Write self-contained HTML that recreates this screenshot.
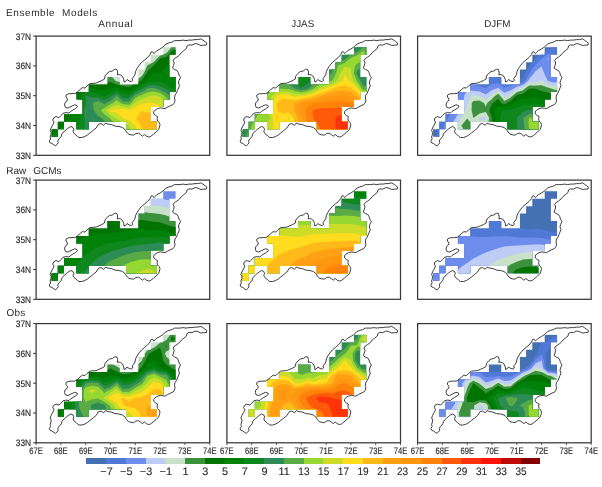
<!DOCTYPE html>
<html lang="en"><head><meta charset="utf-8"><title>Ensemble Models / Raw GCMs / Obs</title>
<style>html,body{margin:0;padding:0;background:#fff}svg{display:block}text{font-family:"Liberation Sans",sans-serif;fill:#2a2a2a;text-rendering:geometricPrecision}.t{font-size:10px}.a{font-size:9.4px;stroke:#2a2a2a;stroke-width:0.15px}.c{font-size:10.9px;stroke:#2a2a2a;stroke-width:0.12px}</style></head><body>
<svg width="602" height="487" viewBox="0 0 602 487">
<rect width="602" height="487" fill="#fff"/>
<defs>
<clipPath id="m0">
<rect x="127.10" y="11.18" width="12.40" height="7.51"/>
<rect x="114.70" y="18.62" width="18.60" height="7.51"/>
<rect x="108.50" y="26.08" width="24.80" height="7.51"/>
<rect x="102.30" y="33.52" width="31.00" height="7.51"/>
<rect x="71.30" y="40.98" width="12.40" height="7.51"/>
<rect x="102.30" y="40.98" width="37.20" height="7.51"/>
<rect x="52.70" y="48.43" width="86.80" height="7.51"/>
<rect x="40.30" y="55.88" width="93.00" height="7.51"/>
<rect x="46.50" y="63.33" width="80.60" height="7.51"/>
<rect x="46.50" y="70.77" width="68.20" height="7.51"/>
<rect x="27.90" y="78.22" width="86.80" height="7.51"/>
<rect x="21.70" y="85.67" width="6.20" height="7.51"/>
<rect x="40.30" y="85.67" width="12.40" height="7.51"/>
<rect x="89.90" y="85.67" width="31.00" height="7.51"/>
<rect x="15.50" y="93.12" width="6.20" height="7.51"/>
</clipPath>
<clipPath id="m1">
<rect x="127.10" y="11.18" width="12.40" height="7.51"/>
<rect x="114.70" y="18.62" width="18.60" height="7.51"/>
<rect x="108.50" y="26.08" width="24.80" height="7.51"/>
<rect x="102.30" y="33.52" width="31.00" height="7.51"/>
<rect x="71.30" y="40.98" width="12.40" height="7.51"/>
<rect x="102.30" y="40.98" width="37.20" height="7.51"/>
<rect x="52.70" y="48.43" width="86.80" height="7.51"/>
<rect x="40.30" y="55.88" width="93.00" height="7.51"/>
<rect x="46.50" y="63.33" width="80.60" height="7.51"/>
<rect x="46.50" y="70.77" width="68.20" height="7.51"/>
<rect x="27.90" y="78.22" width="86.80" height="7.51"/>
<rect x="21.70" y="85.67" width="6.20" height="7.51"/>
<rect x="40.30" y="85.67" width="12.40" height="7.51"/>
<rect x="89.90" y="85.67" width="31.00" height="7.51"/>
</clipPath>
</defs>
<g transform="translate(36.1 36.1)">
<g clip-path="url(#m0)">
<rect x="0" y="0" width="173.6" height="119.2" fill="#c8e1c8"/>
<path fill="#3c913c" fill-rule="evenodd" d="M142.6 6.1L148.8 2.5L153.5 0L155 0L161.2 0L167.4 0L173.6 0L179.8 0L179.8 7.5L179.8 14.9L179.8 22.4L179.8 29.8L179.8 37.2L179.8 44.7L179.8 52.1L179.8 59.6L179.8 67L179.8 74.5L179.8 82L179.8 89.4L179.8 96.9L179.8 104.3L179.8 111.8L179.8 119.2L179.8 126.7L173.6 126.7L167.4 126.7L161.2 126.7L155 126.7L148.8 126.7L142.6 126.7L136.4 126.7L130.2 126.7L124 126.7L117.8 126.7L111.6 126.7L105.4 126.7L99.2 126.7L93 126.7L86.8 126.7L80.6 126.7L74.4 126.7L68.2 126.7L62 126.7L55.8 126.7L49.6 126.7L43.4 126.7L37.2 126.7L31 126.7L24.8 126.7L18.6 126.7L12.4 126.7L6.2 126.7L0 126.7L0 119.2L0 111.8L0 104.3L0 96.9L0 89.4L0 82L0 74.5L0 67L0 59.6L0 57L6.2 54.2L10 52.1L12.4 51L18.6 47.6L23.3 44.7L24.8 44L31 40.8L37.2 38.3L41.6 37.2L43.4 36.9L49.6 36.5L55.8 37L57.2 37.2L62 37.9L68.2 38.5L74.4 38.9L79.3 44.7L80.6 45.4L86.8 46.2L93 46.1L97.2 44.7L99.2 44.1L105.4 40.5L107.7 37.2L111 29.8L111.6 29.2L117.8 25.8L120.8 22.4L124 19.6L130.2 17.1L132.2 14.9L136.4 9.7L141.1 7.5Z"/>
<path fill="#007300" fill-rule="evenodd" d="M167.4 7.4L173.6 5L179.8 2.4L179.8 7.5L179.8 14.9L179.8 22.4L179.8 29.8L179.8 37.2L179.8 44.7L179.8 52.1L179.8 59.6L179.8 67L179.8 74.5L179.8 82L179.8 89.4L179.8 96.9L179.8 104.3L179.8 111.8L179.8 119.2L179.8 126.7L173.6 126.7L167.4 126.7L161.2 126.7L155 126.7L148.8 126.7L142.6 126.7L136.4 126.7L130.2 126.7L124 126.7L117.8 126.7L111.6 126.7L105.4 126.7L99.2 126.7L93 126.7L86.8 126.7L80.6 126.7L74.4 126.7L68.2 126.7L62 126.7L55.8 126.7L49.6 126.7L43.4 126.7L37.2 126.7L31 126.7L24.8 126.7L18.6 126.7L12.4 126.7L6.2 126.7L0 126.7L0 119.2L0 111.8L0 104.3L0 96.9L0 89.4L0 84.1L3.9 82L6.2 80.7L12.4 76.9L15.8 74.5L18.6 72.5L24.2 67L24.8 66.5L30.9 59.6L31 59.5L36.2 52.1L37.2 51.3L43.4 46.3L49.6 44.9L55.8 45.6L62 46.8L68.2 46.9L74.4 45.8L80.6 48.5L86.8 50L93 50.9L99.2 47.7L104.8 44.7L105.4 44.4L110.4 37.2L111.6 34.8L116.9 29.8L117.8 29.3L123.8 22.4L124 22.2L130.2 20.8L135.7 14.9L136.4 14L142.6 13.6L148.8 12.7L155 11.4L161.2 9.6L167.3 7.5Z"/>
<path fill="#00820a" fill-rule="evenodd" d="M173.6 22L179.8 20.2L179.8 22.4L179.8 29.8L179.8 37.2L179.8 44.7L179.8 52.1L179.8 59.6L179.8 67L179.8 74.5L179.8 82L179.8 89.4L179.8 96.9L179.8 104.3L179.8 111.8L179.8 119.2L179.8 126.7L173.6 126.7L167.4 126.7L161.2 126.7L155 126.7L148.8 126.7L142.6 126.7L136.4 126.7L130.2 126.7L124 126.7L117.8 126.7L111.6 126.7L105.4 126.7L99.2 126.7L93 126.7L86.8 126.7L80.6 126.7L74.4 126.7L68.2 126.7L62 126.7L55.8 126.7L49.6 126.7L43.4 126.7L37.2 126.7L31 126.7L24.8 126.7L18.6 126.7L12.4 126.7L6.2 126.7L0 126.7L0 119.2L0 111.8L0 111L6.2 106.5L9 104.3L12.4 101.8L18.6 97L18.7 96.9L24.8 92.1L27.9 89.4L31 86.7L34.9 82L35.7 74.5L37.2 72L39.4 67L43.4 61.5L43.8 59.6L47 52.1L49.6 50.7L53.7 52.1L55.8 52.7L62 53.6L68.2 54.2L73 52.2L74.4 51.6L80.6 51.7L82.2 52.1L86.8 54L93 54.9L97.6 52.1L99.2 51.2L105.4 47.3L110.3 44.7L111.6 42.5L117.4 37.2L117.8 36.9L123.9 37.2L124 37.3L124.4 37.2L129.9 29.8L130.2 29.7L133.2 29.8L136.3 37.2L136.4 37.3L136.4 37.2L140.9 29.8L142.6 29.7L148.8 28.3L155 26.8L161.2 25.3L167.4 23.6L172.1 22.4Z"/>
<path fill="#0f871e" fill-rule="evenodd" d="M161.2 43L167.4 40.9L173.6 39.2L179.8 37.7L179.8 44.7L179.8 52.1L179.8 59.6L179.8 67L179.8 74.5L179.8 82L179.8 89.4L179.8 96.9L179.8 104.3L179.8 111.8L179.8 119.2L179.8 126.7L173.6 126.7L167.4 126.7L161.2 126.7L155 126.7L148.8 126.7L142.6 126.7L136.4 126.7L130.2 126.7L124 126.7L117.8 126.7L111.6 126.7L105.4 126.7L99.2 126.7L93 126.7L86.8 126.7L80.6 126.7L74.4 126.7L68.2 126.7L62 126.7L55.8 126.7L49.6 126.7L43.4 126.7L37.2 126.7L31 126.7L24.8 126.7L18.6 126.7L15.4 126.7L18.6 123.3L22.1 119.2L24.8 116.3L28.3 111.8L31 108.6L33.8 104.3L37.2 99.3L38.3 96.9L41.6 89.4L43.4 86.5L44.6 82L43.4 76.9L42.5 74.5L43.4 72.9L45.8 67L46.6 59.6L49.6 55.2L55.8 56.7L62 57.7L66.4 59.6L68.2 60.3L69.6 59.6L74.4 56.5L80.6 54.3L86.8 58.2L93 58.6L99.2 53.9L102.5 52.1L105.4 50.2L111.6 46.7L117.8 45.7L124 45.7L130.2 48L134.7 52.1L136.4 53.2L141.8 52.1L142.6 51.7L148.8 48.5L155 45.8L157.9 44.7Z"/>
<path fill="#2d8c55" fill-rule="evenodd" d="M111.6 49.4L117.8 48.7L124 50.1L128.1 52.1L130.2 53.1L136.4 57L142.6 57.5L148.8 57.2L155 56.4L161.2 55.6L167.4 54.8L173.6 54.1L179.8 53.6L179.8 59.6L179.8 67L179.8 74.5L179.8 82L179.8 89.4L179.8 96.9L179.8 104.3L179.8 111.8L179.8 119.2L179.8 126.7L173.6 126.7L167.4 126.7L161.2 126.7L155 126.7L148.8 126.7L142.6 126.7L136.4 126.7L130.2 126.7L124 126.7L117.8 126.7L111.6 126.7L105.4 126.7L99.2 126.7L93 126.7L86.8 126.7L80.6 126.7L74.4 126.7L68.2 126.7L62 126.7L55.8 126.7L49.6 126.7L43.4 126.7L40.5 126.7L43.4 121.4L44.5 119.2L47.8 111.8L49.6 105.8L50 104.3L50.4 96.9L49.6 95.5L48.4 89.4L48.5 82L47.7 74.5L49.6 68.9L50.4 67L49.6 62.6L49.4 59.6L49.6 59.2L51 59.6L55.8 61.4L62 61.5L68.2 64.2L74.4 61L76 59.6L80.6 56.9L84.4 59.6L86.8 61.8L93 62.2L95.1 59.6L99.2 56.2L105.4 53.1L107 52.1Z"/>
<path fill="#5aaa46" fill-rule="evenodd" d="M111.6 52.1L117.8 51.7L119.3 52.1L124 53.8L130.2 57.2L134.3 59.6L136.4 61.1L142.6 63.1L148.8 64.3L155 65.1L161.2 65.9L167.4 66.6L171.5 67L173.6 67.3L179.8 68.2L179.8 74.5L179.8 82L179.8 89.4L179.8 96.9L179.8 104.3L179.8 111.8L179.8 119.2L179.8 126.7L173.6 126.7L167.4 126.7L161.2 126.7L155 126.7L148.8 126.7L142.6 126.7L136.4 126.7L130.2 126.7L124 126.7L117.8 126.7L111.6 126.7L105.4 126.7L99.2 126.7L93 126.7L86.8 126.7L80.6 126.7L74.4 126.7L68.2 126.7L62 126.7L61.6 126.7L62 125.8L64.6 119.2L67.6 111.8L68.2 110.4L70.5 104.3L72.8 96.9L72.7 89.4L68.2 84.6L65.1 82L62 79.9L57.7 74.5L56.5 67L62 64.9L66.4 67L68.2 68.1L70.1 67L74.4 64.8L80.4 59.6L80.6 59.5L80.8 59.6L86.8 65.1L93 65.7L98 59.6L99.2 58.6L105.4 55.9L111.6 52.2Z"/>
<path fill="#96d732" fill-rule="evenodd" d="M105.4 58.8L111.6 56.2L117.8 55.3L124 57L128.2 59.6L130.2 61.8L136.4 66L139.1 67L142.6 69.2L148.8 71.8L155 74.1L156.2 74.5L161.2 76.6L167.4 79L173.6 81.4L175.1 82L179.8 84L179.8 89.4L179.8 96.9L179.8 104.3L179.8 111.8L179.8 119.2L179.8 126.7L173.6 126.7L167.4 126.7L161.2 126.7L155 126.7L148.8 126.7L142.6 126.7L136.4 126.7L130.2 126.7L124 126.7L117.8 126.7L111.6 126.7L105.4 126.7L99.2 126.7L93 126.7L86.8 126.7L80.6 126.7L80.2 126.7L80.6 124.9L81.8 119.2L83.6 111.8L85.5 104.3L86.5 96.9L82 89.4L80.6 88.6L74.4 83L73.5 82L68.2 77.8L64.6 74.5L68.2 72L74.4 68.2L76.8 67L80.6 64L84.4 67L86.8 68L93 68.7L95.1 67L99.2 62L103.3 59.6Z"/>
<path fill="#cddc28" fill-rule="evenodd" d="M117.8 59.1L120.6 59.6L124 61L130.1 67L130.2 67.2L136.4 72.6L139.6 74.5L142.6 77L148.8 81.3L150 81.9L155 86L159.8 89.4L161.2 90.7L167.4 95.8L168.8 96.8L173.6 101.4L177.2 104.3L179.8 107.1L179.8 111.8L179.8 119.2L179.8 126.7L173.6 126.7L167.4 126.7L161.2 126.7L155 126.7L148.8 126.7L142.6 126.7L136.4 126.7L130.2 126.7L124 126.7L117.8 126.7L111.6 126.7L105.4 126.7L99.2 126.7L96.3 126.7L95.8 119.2L95.6 111.8L95.7 104.3L95.8 96.9L93 90.8L92 89.4L86.8 86.8L80.6 83L79.5 82L74.4 78.8L69.7 74.5L74.4 71.1L80.6 68.6L86.8 70.4L93 71.3L98.5 67L99.2 66.2L105.4 62.8L111.6 60.6L114.9 59.6Z"/>
<path fill="#ffdc1e" fill-rule="evenodd" d="M111.6 66.9L117.8 67L117.8 67L124 70L128.8 74.5L130.2 75.8L136.4 81.9L136.5 82L142.6 89.4L142.6 89.5L147.4 96.9L148.8 100.3L151 104.3L153.5 111.8L154.9 119.2L155 121.9L155.1 126.7L155 126.7L148.8 126.7L142.6 126.7L136.4 126.7L130.2 126.7L124 126.7L117.8 126.7L115.8 126.7L111.6 121.1L110.7 119.2L107 111.8L105.4 108.6L104.1 104.3L102.1 96.9L99.2 89.6L99.1 89.4L93 84.4L86.9 82L86.8 81.9L80.6 76.6L74.4 75.1L73.7 74.5L74.4 74L80.6 73.1L86.8 72.7L93 73.9L99.2 70.8L105.4 67.6L110.2 67Z"/>
<path fill="#ffb919" fill-rule="evenodd" d="M105.4 75.1L111.6 76.3L117.8 77.8L124 81.3L124.7 82L129.7 89.4L130.2 93.3L130.8 96.9L130.2 99.1L126.3 104.3L124 105.5L117.8 104.8L117.2 104.3L111.6 100.9L109 96.8L105.4 90.8L104.8 89.4L100.1 81.9Z"/>
</g>
<path d="M19.4 109.7L17.9 108.9L15.9 107.4L14 106.7L13.2 104.9L14.5 102.9L14 100.9L14.8 98.4L15.1 96.4L14 94.4L15 91.9L15.9 90L17.1 88L17.9 86L16.7 84L17.4 81.8L19.9 80.5L22.9 81.5L24.9 79.5L26.9 77.2L29.9 76.5L32.9 76.9L34.4 75.4L36.9 73.9L39.4 72.4L41.4 70.7L40.9 69.4L38.4 68.7L34.9 70.4L31.9 71.9L29.4 71.4L28.4 68.9L28.9 66.4L30.9 64.9L31.4 62.9L29.9 60.9L29.9 59L31.9 57.8L35.9 57.5L38.4 57.5L39.9 57L43.9 53.5L46.3 51.5L48.8 52L50.8 50L53.8 47.5L60 47L62.9 45.7L65.9 44.4L68.4 42.9L68.9 39.9L70.9 37.4L73.4 35.4L76.3 34.9L78.8 33.1L80.8 33.4L81.6 35.9L81.3 38.9L82.5 38.4L84.5 38.9L86.4 40.4L87.7 43.4L87.9 45.9L89.4 45.4L90.9 43.4L93.1 44.9L95.4 45.4L96.7 44.4L96.1 42.4L97.4 40.9L98.9 38.4L99.4 35.4L100.9 32.4L102.9 29.4L105.4 26.4L108.4 23.9L111.4 21.4L113.9 18.5L114.9 16L116.3 15.5L117.8 17.5L118.8 16.5L120.8 14.5L123.8 13L126.8 11L130 8L132.9 6.8L135.9 6L138.4 4.5L140.9 4.5L143.9 4.5L146.9 4L149.9 4.5L152.9 4L155.9 4L158.9 3.5L161.8 3.5L164.8 2.8L166.8 4L168.8 5.5L170.8 7L170.3 9L167.8 9L164.8 9.4L161.8 8L158.9 7.5L155.9 9L152.9 8.8L150.9 9.9L150.4 12.4L147.9 14.4L145.4 16.4L143.4 18.9L140.9 20.9L138.4 22.4L137.1 24.4L138.1 26.9L137.4 29.4L136.4 31.9L138.4 33.4L140.9 34.4L142.1 36.4L142.9 39L144.4 41.4L142.9 44.4L142.4 46.9L143.4 49.4L142.4 51.9L141.4 54.4L140.4 56.9L138.9 58.9L138.4 61.9L138.9 64L138.4 66.5L136.9 68.5L134.4 69.5L131.4 71L128.9 72.5L126.9 72.2L124.4 71.8L121.5 72.5L119 74L117.5 75.9L117.8 77.9L119.5 79.4L121.5 80.4L121 82.4L121.5 84.9L123 86.4L123.9 88.4L123.4 90.9L122.5 93.4L120 95.9L117 98.4L114.5 100.4L112.5 100.9L110.3 100.1L108.3 98.4L106.3 100.1L104.3 98.4L102.3 97.1L99.8 97.4L97.4 99.1L94.9 98.7L92.4 98.1L90.4 95.9L88.9 93.4L86.4 91.4L82.9 90.4L78.9 90L75.4 88.5L71.9 88L69.4 87L67.5 89.2L65 87.5L62.5 88L60 91.9L57 94.4L53.8 96.9L51.3 98.9L48.8 100.4L45.8 101.4L42.9 101.4L41.4 100.4L39.9 98.9L37.9 97.4L36.9 95.4L37.7 93.4L36.9 91.4L34.9 90.4L32.9 91.4L30.9 92.9L28.9 94.7L26.9 96.4L25.7 98.1L25.4 99.9L24.4 101.4L22.7 102.9L21.7 104.9L22.1 106.7L20.9 108.4Z" fill="none" stroke="#1c1c1c" stroke-width="0.85" stroke-linejoin="round"/>
<rect x="0" y="0" width="173.6" height="119.2" fill="none" stroke="#383838" stroke-width="1.25"/>
<line x1="-3" y1="0" x2="0" y2="0" stroke="#383838" stroke-width="1"/>
<text class="a" x="-20.3" y="3.5" textLength="15.3" lengthAdjust="spacingAndGlyphs">37N</text>
<line x1="-3" y1="29.8" x2="0" y2="29.8" stroke="#383838" stroke-width="1"/>
<text class="a" x="-20.3" y="33.3" textLength="15.3" lengthAdjust="spacingAndGlyphs">36N</text>
<line x1="-3" y1="59.6" x2="0" y2="59.6" stroke="#383838" stroke-width="1"/>
<text class="a" x="-20.3" y="63.1" textLength="15.3" lengthAdjust="spacingAndGlyphs">35N</text>
<line x1="-3" y1="89.4" x2="0" y2="89.4" stroke="#383838" stroke-width="1"/>
<text class="a" x="-20.3" y="92.9" textLength="15.3" lengthAdjust="spacingAndGlyphs">34N</text>
<line x1="-3" y1="119.2" x2="0" y2="119.2" stroke="#383838" stroke-width="1"/>
<text class="a" x="-20.3" y="122.7" textLength="15.3" lengthAdjust="spacingAndGlyphs">33N</text>
</g>
<g transform="translate(226.9 36.1)">
<g clip-path="url(#m0)">
<rect x="0" y="0" width="173.6" height="119.2" fill="#0f871e"/>
<path fill="#2d8c55" fill-rule="evenodd" d="M136.4 3.8L142.6 0.1L142.9 0L148.8 0L155 0L161.2 0L167.4 0L173.6 0L179.8 0L179.8 7.5L179.8 14.9L179.8 22.4L179.8 29.8L179.8 37.2L179.8 44.7L179.8 52.1L179.8 59.6L179.8 67L179.8 74.5L179.8 82L179.8 89.4L179.8 96.9L179.8 104.3L179.8 111.8L179.8 119.2L179.8 126.7L173.6 126.7L167.4 126.7L161.2 126.7L155 126.7L148.8 126.7L142.6 126.7L136.4 126.7L130.2 126.7L124 126.7L117.8 126.7L111.6 126.7L105.4 126.7L99.2 126.7L93 126.7L86.8 126.7L80.6 126.7L74.4 126.7L68.2 126.7L62 126.7L55.8 126.7L49.6 126.7L43.4 126.7L37.2 126.7L31 126.7L24.8 126.7L18.6 126.7L12.4 126.7L6.2 126.7L0 126.7L0 119.2L0 111.8L0 110.4L6.2 106.2L8.2 104.3L12.4 101.8L17 96.9L17.7 89.4L16.2 82L16.3 74.5L18 67L18.6 65.5L21.1 59.6L24.8 54.1L26.3 52.1L31 47.9L36 44.7L37.2 44.1L43.4 41.9L49.6 41.2L55.8 42L62 43.9L63.3 44.7L68.2 46.8L74.4 51.9L80.6 47.5L84.1 44.7L86.8 42L93 37.7L93.8 37.2L99.2 31.7L100.2 29.8L105.4 24.2L108.6 22.4L111.6 21L117.8 19L124 15.3L125 14.9L130.2 10.9L133.8 7.4Z"/>
<path fill="#5aaa46" fill-rule="evenodd" d="M136.4 10.2L142.6 9.5L148.8 10.8L155 13.4L160 14.9L161.2 15.7L167.4 15.5L169.4 14.9L173.6 13.9L179.8 11.7L179.8 14.9L179.8 22.4L179.8 29.8L179.8 37.2L179.8 44.7L179.8 52.1L179.8 59.6L179.8 67L179.8 74.5L179.8 82L179.8 89.4L179.8 96.9L179.8 104.3L179.8 111.8L179.8 119.2L179.8 126.7L173.6 126.7L167.4 126.7L161.2 126.7L155 126.7L148.8 126.7L142.6 126.7L136.4 126.7L130.2 126.7L124 126.7L117.8 126.7L111.6 126.7L105.4 126.7L99.2 126.7L93 126.7L86.8 126.7L80.6 126.7L74.4 126.7L68.2 126.7L62 126.7L55.8 126.7L49.6 126.7L43.4 126.7L37.2 126.7L31 126.7L24.8 126.7L18.6 126.7L12.4 126.7L6.2 126.7L0 126.7L0 125.3L5.4 119.2L6.2 118.4L11.3 111.8L12.4 110.7L15.9 104.3L18.6 101.3L20.7 96.9L21.5 89.4L22.4 82L24.4 74.5L24.8 73.5L27.2 67L31 60.1L31.3 59.6L37.2 53.1L38.3 52.2L43.4 49L49.6 47.4L55.8 47.9L62 48.7L67.9 52.1L68.2 52.3L74.4 54.1L80.6 52.8L82.1 52.1L86.8 47.8L92.1 44.7L93 44L99.2 40.7L104.7 37.2L105.4 35.5L106.5 29.8L111.6 25.4L117.8 23.4L119.1 22.4L124 18.6L130.2 16L131.8 14.9ZM140.8 29.8L136.4 30.4L130.2 34.6L129.4 37.2L130.2 39.1L133.6 44.7L136.4 49.8L142.6 49.6L148.8 46.3L151.3 44.7L155 37.2L151.6 29.8L148.8 28.9L142.6 29.4Z"/>
<path fill="#96d732" fill-rule="evenodd" d="M136.4 14.7L137 14.9L139.6 22.4L136.4 24.3L130.2 27.4L128.2 29.8L126.9 37.2L130.1 44.7L130.2 44.8L134.9 52.1L136.4 53.8L142.6 54.4L148.8 53.7L154.4 52.1L155 51.8L161.2 48.6L167.4 45.4L168.9 44.7L173.6 41.5L179.8 38.2L179.8 44.7L179.8 52.1L179.8 59.6L179.8 67L179.8 74.5L179.8 82L179.8 89.4L179.8 96.9L179.8 104.3L179.8 111.8L179.8 119.2L179.8 126.7L173.6 126.7L167.4 126.7L161.2 126.7L155 126.7L148.8 126.7L142.6 126.7L136.4 126.7L130.2 126.7L124 126.7L117.8 126.7L111.6 126.7L105.4 126.7L99.2 126.7L93 126.7L86.8 126.7L80.6 126.7L74.4 126.7L68.2 126.7L62 126.7L55.8 126.7L49.6 126.7L43.4 126.7L37.2 126.7L31 126.7L24.8 126.7L18.6 126.7L12.8 126.7L16.5 119.2L18.6 114.5L19.5 111.8L21.4 104.3L23.6 96.9L24.8 89.5L24.8 89.4L29.3 82L31 78L32.6 74.5L35.2 67L37.2 63.6L39.4 59.6L43.4 55.7L49.6 52.4L55.8 52.6L62 52.9L68.2 55L74.4 56.1L80.6 54.9L86.8 52.3L87.2 52.1L93 48L99.2 45.8L105.2 44.7L105.4 44.6L109.2 37.2L111 29.8L111.6 29.3L117.8 26.8L123.4 22.4L124 21.9L130.2 19.2L136.2 14.9Z"/>
<path fill="#cddc28" fill-rule="evenodd" d="M117.8 30.6L124 31.9L124.4 37.2L126.8 44.7L130.2 48.3L132.7 52.1L136.4 56.4L142.6 58.1L148.8 58.7L155 58.5L161.2 57.7L167.4 56.6L173.6 55.3L179.8 54L179.8 59.6L179.8 67L179.8 74.5L179.8 82L179.8 89.4L179.8 96.9L179.8 104.3L179.8 111.8L179.8 119.2L179.8 126.7L173.6 126.7L167.4 126.7L161.2 126.7L155 126.7L148.8 126.7L142.6 126.7L136.4 126.7L130.2 126.7L124 126.7L117.8 126.7L111.6 126.7L105.4 126.7L99.2 126.7L93 126.7L86.8 126.7L80.6 126.7L74.4 126.7L68.2 126.7L62 126.7L55.8 126.7L49.6 126.7L43.4 126.7L37.2 126.7L31 126.7L24.8 126.7L24.4 126.7L24.8 125.3L26.5 119.2L28 111.8L28.7 104.3L30 96.9L31 94.2L37.2 89.7L37.5 89.4L43.4 82.6L43.5 82L43.4 81.5L39.8 74.5L41.1 67L43.4 63.3L45.2 59.6L49.6 56L55.8 55.4L62 55.9L68.2 57.8L74.4 58.1L80.6 57L86.8 54.8L92.3 52.1L93 51.6L99.2 49L105.4 47.3L110 44.7L111.6 41.5L113.6 37.2Z"/>
<path fill="#ffdc1e" fill-rule="evenodd" d="M117.8 38.7L121.5 44.7L124 45.6L130.2 51.8L130.4 52.1L136.4 58.9L138.3 59.6L142.6 61.9L148.8 63.5L155 64.5L161.2 65.2L167.4 65.6L173.6 65.8L179.8 66L179.8 67L179.8 74.5L179.8 82L179.8 89.4L179.8 96.9L179.8 104.3L179.8 111.8L179.8 119.2L179.8 126.7L173.6 126.7L167.4 126.7L161.2 126.7L155 126.7L148.8 126.7L142.6 126.7L136.4 126.7L130.2 126.7L124 126.7L117.8 126.7L111.6 126.7L105.4 126.7L99.2 126.7L93 126.7L86.8 126.7L80.6 126.7L74.4 126.7L68.2 126.7L62 126.7L55.8 126.7L49.6 126.7L43.4 126.7L37.2 126.7L36.3 126.7L37.2 122.4L37.9 119.2L39.5 111.8L41.6 104.3L43.4 100.4L44.9 96.8L46.6 89.4L46.3 82L45.1 74.5L45.7 67L49.5 59.6L49.6 59.5L55.8 58.1L62 58.9L64.5 59.6L68.2 60.6L74.4 60.1L77.8 59.6L80.6 59.2L86.8 57.2L93 54.5L99.2 52.2L99.2 52.1L105.4 50L111.6 47.1L116.2 44.7ZM60.6 82L62 84.3L62.7 82L62 81.2Z"/>
<path fill="#ffb919" fill-rule="evenodd" d="M111.6 50.6L117.8 49.1L124 51.4L124.8 52.1L130.2 56.1L133.4 59.6L136.4 62.4L142.6 65.9L145.9 67L148.8 68.6L155 70.8L161.2 72.6L167.4 74.3L168.3 74.5L173.6 76L179.8 77.5L179.8 82L179.8 89.4L179.8 96.9L179.8 104.3L179.8 111.8L179.8 119.2L179.8 126.7L173.6 126.7L167.4 126.7L161.2 126.7L155 126.7L148.8 126.7L142.6 126.7L136.4 126.7L130.2 126.7L124 126.7L117.8 126.7L111.6 126.7L105.4 126.7L99.2 126.7L93 126.7L86.8 126.7L80.6 126.7L74.4 126.7L68.2 126.7L62 126.7L55.8 126.7L49.6 126.7L49.3 126.7L49.6 125.5L51 119.2L53.3 111.8L55.8 106.1L56.6 104.3L62 97L62.1 96.9L67.4 89.4L67 82L62 76.2L55.8 77.6L50.4 74.5L49.8 67L55.8 62.6L62 63.5L68.2 63.8L74.4 62.4L80.6 61.4L86.8 59.7L87 59.6L93 57.3L99.2 55.1L105.4 52.8L107.2 52.1ZM49.6 76.3L51.1 82L49.6 83.7L49.2 82Z"/>
<path fill="#ffa014" fill-rule="evenodd" d="M99.2 58L105.4 56.2L111.6 54.6L117.8 54.3L124 56L129 59.6L130.2 60.5L136.4 66.2L138 67L142.6 70.8L148.8 74.3L149.4 74.5L155 77.9L161.2 81L163.4 82L167.4 84.2L173.6 87.3L178.1 89.4L179.8 90.4L179.8 96.9L179.8 104.3L179.8 111.8L179.8 119.2L179.8 126.7L173.6 126.7L167.4 126.7L161.2 126.7L155 126.7L148.8 126.7L142.6 126.7L136.4 126.7L130.2 126.7L124 126.7L117.8 126.7L111.6 126.7L105.4 126.7L99.2 126.7L93 126.7L86.8 126.7L80.6 126.7L74.4 126.7L68.2 126.7L62.6 126.7L63.9 119.2L65.7 111.7L68.2 104.6L68.3 104.3L70.7 96.9L72.2 89.4L71.1 82L68.2 75.7L67.1 74.5L67.9 67L68.2 67L74.4 64.6L80.6 63.6L86.8 62.1L93 60.2L94.5 59.6Z"/>
<path fill="#ff960f" fill-rule="evenodd" d="M111.6 58.9L117.8 58.9L120.8 59.6L124 60.5L130.2 65.1L132.5 67L136.4 71.4L140.4 74.5L142.6 76.7L148.8 81.6L149.4 82L155 86.8L158.6 89.4L161.2 91.9L167.3 96.9L167.4 97L173.6 102.6L175.8 104.3L179.8 108.2L179.8 111.8L179.8 119.2L179.8 126.7L173.6 126.7L167.4 126.7L161.2 126.7L155 126.7L148.8 126.7L142.6 126.7L136.4 126.7L130.2 126.7L124 126.7L117.8 126.7L111.6 126.7L105.4 126.7L99.2 126.7L93 126.7L86.8 126.7L80.6 126.7L75.6 126.7L75.7 119.2L76.2 111.8L76.9 104.3L77.3 96.9L77 89.4L75.2 82L74.4 79.6L72.5 74.5L73.7 67L74.4 66.8L80.6 65.9L86.8 64.6L93 63.3L99.2 61.5L105.4 59.8L106.5 59.6Z"/>
<path fill="#ff820a" fill-rule="evenodd" d="M86.8 67L93 66.5L99.2 65.7L105.4 65L111.6 64.6L117.8 64.8L124 65.9L125.8 67L130.2 71.3L133.2 74.5L136.4 78.2L140.2 82L142.6 85.2L146.5 89.4L148.8 92.8L152.2 96.9L155 101.5L157.2 104.3L161.2 111.3L161.5 111.7L165.5 119.2L167.4 123.8L168.9 126.7L167.4 126.7L161.2 126.7L155 126.7L148.8 126.7L142.6 126.7L136.4 126.7L130.2 126.7L124 126.7L117.8 126.7L111.6 126.7L105.4 126.7L99.2 126.7L93 126.7L89.3 126.7L87.7 119.2L86.8 113.6L86.6 111.7L85.6 104.3L84.4 96.9L82.5 89.4L80.6 84.7L79.9 81.9L77.9 74.5L80.6 70.8L86.6 67Z"/>
<path fill="#ff5a0a" fill-rule="evenodd" d="M86.8 73.6L93 72.4L99.2 72L105.4 71.8L111.6 71.4L117.8 71.9L124 73.7L124.9 74.5L130.2 79.7L132.1 82L136.4 88.6L137 89.4L140.4 96.9L142.6 104.3L142.6 104.3L143.7 111.8L143.5 119.2L142.6 123.4L141.5 126.7L136.4 126.7L130.2 126.7L124 126.7L117.8 126.7L111.6 126.7L108.3 126.6L105.4 123.4L103 119.2L99.3 111.8L99.2 111.6L97 104.3L95 96.9L93 92.5L91.8 89.4L86.8 83L86.4 82L85.5 74.5Z"/>
<path fill="#ff320a" fill-rule="evenodd" d="M111.6 79.5L117.8 79.2L123.1 82L124 82.8L128.2 89.4L129.2 96.9L126.3 104.3L124 106.8L117.8 107.7L112.7 104.3L111.6 103.4L108.6 96.9L108.4 89.4L108.8 81.9Z"/>
</g>
<path d="M19.4 109.7L17.9 108.9L15.9 107.4L14 106.7L13.2 104.9L14.5 102.9L14 100.9L14.8 98.4L15.1 96.4L14 94.4L15 91.9L15.9 90L17.1 88L17.9 86L16.7 84L17.4 81.8L19.9 80.5L22.9 81.5L24.9 79.5L26.9 77.2L29.9 76.5L32.9 76.9L34.4 75.4L36.9 73.9L39.4 72.4L41.4 70.7L40.9 69.4L38.4 68.7L34.9 70.4L31.9 71.9L29.4 71.4L28.4 68.9L28.9 66.4L30.9 64.9L31.4 62.9L29.9 60.9L29.9 59L31.9 57.8L35.9 57.5L38.4 57.5L39.9 57L43.9 53.5L46.3 51.5L48.8 52L50.8 50L53.8 47.5L60 47L62.9 45.7L65.9 44.4L68.4 42.9L68.9 39.9L70.9 37.4L73.4 35.4L76.3 34.9L78.8 33.1L80.8 33.4L81.6 35.9L81.3 38.9L82.5 38.4L84.5 38.9L86.4 40.4L87.7 43.4L87.9 45.9L89.4 45.4L90.9 43.4L93.1 44.9L95.4 45.4L96.7 44.4L96.1 42.4L97.4 40.9L98.9 38.4L99.4 35.4L100.9 32.4L102.9 29.4L105.4 26.4L108.4 23.9L111.4 21.4L113.9 18.5L114.9 16L116.3 15.5L117.8 17.5L118.8 16.5L120.8 14.5L123.8 13L126.8 11L130 8L132.9 6.8L135.9 6L138.4 4.5L140.9 4.5L143.9 4.5L146.9 4L149.9 4.5L152.9 4L155.9 4L158.9 3.5L161.8 3.5L164.8 2.8L166.8 4L168.8 5.5L170.8 7L170.3 9L167.8 9L164.8 9.4L161.8 8L158.9 7.5L155.9 9L152.9 8.8L150.9 9.9L150.4 12.4L147.9 14.4L145.4 16.4L143.4 18.9L140.9 20.9L138.4 22.4L137.1 24.4L138.1 26.9L137.4 29.4L136.4 31.9L138.4 33.4L140.9 34.4L142.1 36.4L142.9 39L144.4 41.4L142.9 44.4L142.4 46.9L143.4 49.4L142.4 51.9L141.4 54.4L140.4 56.9L138.9 58.9L138.4 61.9L138.9 64L138.4 66.5L136.9 68.5L134.4 69.5L131.4 71L128.9 72.5L126.9 72.2L124.4 71.8L121.5 72.5L119 74L117.5 75.9L117.8 77.9L119.5 79.4L121.5 80.4L121 82.4L121.5 84.9L123 86.4L123.9 88.4L123.4 90.9L122.5 93.4L120 95.9L117 98.4L114.5 100.4L112.5 100.9L110.3 100.1L108.3 98.4L106.3 100.1L104.3 98.4L102.3 97.1L99.8 97.4L97.4 99.1L94.9 98.7L92.4 98.1L90.4 95.9L88.9 93.4L86.4 91.4L82.9 90.4L78.9 90L75.4 88.5L71.9 88L69.4 87L67.5 89.2L65 87.5L62.5 88L60 91.9L57 94.4L53.8 96.9L51.3 98.9L48.8 100.4L45.8 101.4L42.9 101.4L41.4 100.4L39.9 98.9L37.9 97.4L36.9 95.4L37.7 93.4L36.9 91.4L34.9 90.4L32.9 91.4L30.9 92.9L28.9 94.7L26.9 96.4L25.7 98.1L25.4 99.9L24.4 101.4L22.7 102.9L21.7 104.9L22.1 106.7L20.9 108.4Z" fill="none" stroke="#1c1c1c" stroke-width="0.85" stroke-linejoin="round"/>
<rect x="0" y="0" width="173.6" height="119.2" fill="none" stroke="#383838" stroke-width="1.25"/>
</g>
<g transform="translate(417.6 36.1)">
<g clip-path="url(#m0)">
<rect x="0" y="0" width="173.6" height="119.2" fill="#4471b4"/>
<path fill="#5078d7" fill-rule="evenodd" d="M142.6 7.3L148.8 3.1L153.5 0L155 0L161.2 0L167.4 0L173.6 0L179.8 0L179.8 7.5L179.8 14.9L179.8 22.4L179.8 29.8L179.8 37.2L179.8 44.7L179.8 52.1L179.8 59.6L179.8 67L179.8 74.5L179.8 82L179.8 89.4L179.8 96.9L179.8 104.3L179.8 111.8L179.8 119.2L179.8 126.7L173.6 126.7L167.4 126.7L161.2 126.7L155 126.7L148.8 126.7L142.6 126.7L136.4 126.7L130.2 126.7L124 126.7L117.8 126.7L111.6 126.7L105.4 126.7L99.2 126.7L93 126.7L86.8 126.7L80.6 126.7L74.4 126.7L68.2 126.7L62 126.7L55.8 126.7L49.6 126.7L43.4 126.7L37.2 126.7L31 126.7L24.8 126.7L18.6 126.7L12.4 126.7L6.2 126.7L0 126.7L0 119.2L0 111.8L0 111.4L6.2 107.8L12 104.3L12.4 104L18.6 99.7L20.1 96.9L18.8 89.4L19.3 82L22.4 74.5L24.8 69.5L26.1 67L28.8 59.6L31 52.7L31.1 52.1L35.6 44.7L37.2 43.3L43.4 39.7L49.6 38.7L55.8 39L62 39.9L68.2 40.3L74.4 39.7L80.6 41.3L86.8 44.1L90.1 44.7L93 45L96.7 44.7L99.2 44.4L105.4 41.8L107.5 37.2L111.6 30.3L111.9 29.8L117.8 22.7L118.1 22.4L124 16.9L128.5 14.9L130.2 13.9L136.4 10.2L142.4 7.4Z"/>
<path fill="#6e8ceb" fill-rule="evenodd" d="M173.6 5.8L179.8 1.8L179.8 7.5L179.8 14.9L179.8 22.4L179.8 29.8L179.8 37.2L179.8 44.7L179.8 52.1L179.8 59.6L179.8 67L179.8 74.5L179.8 82L179.8 89.4L179.8 96.9L179.8 104.3L179.8 111.8L179.8 119.2L179.8 126.7L173.6 126.7L167.4 126.7L161.2 126.7L155 126.7L148.8 126.7L142.6 126.7L136.4 126.7L130.2 126.7L124 126.7L117.8 126.7L111.6 126.7L105.4 126.7L99.2 126.7L93 126.7L86.8 126.7L80.6 126.7L74.4 126.7L68.2 126.7L62 126.7L55.8 126.7L49.6 126.7L43.4 126.7L37.2 126.7L31 126.7L24.8 126.7L18.6 126.7L12.4 126.7L6.2 126.7L5.1 126.7L6.2 125.8L12.4 119.6L12.8 119.2L18.6 112.6L19.1 111.8L23.7 104.3L24.8 101.2L25.9 96.9L26.3 89.4L30.6 82L31 81.3L34.7 74.5L37.2 70.6L39.8 67L40.8 59.6L40.6 52.1L43.4 49L49.6 47.1L55.8 48.6L62 49.8L67.4 52.2L68.2 52.4L68.6 52.1L74.4 47.6L80.6 47.3L86.8 51.6L93 50.1L99.2 47.7L105.4 46.4L107.5 44.7L111.6 37.9L112.1 37.2L116.9 29.8L117.8 28.7L124 22.8L124.3 22.4L130.2 18.2L136.4 17.7L142.6 18.5L148.8 18.1L155 16L157.2 14.9L161.2 13L167.4 9.5L171 7.5Z"/>
<path fill="#becdf5" fill-rule="evenodd" d="M130.2 21.9L131.6 22.4L130.2 23.3L129.6 22.4ZM179.8 21L179.8 22.4L179.8 29.8L179.8 37.2L179.8 44.7L179.8 52.1L179.8 59.6L179.8 67L179.8 74.5L179.8 82L179.8 89.4L179.8 96.9L179.8 104.3L179.8 111.8L179.8 119.2L179.8 126.7L173.6 126.7L167.4 126.7L161.2 126.7L155 126.7L148.8 126.7L142.6 126.7L136.4 126.7L130.2 126.7L124 126.7L117.8 126.7L111.6 126.7L105.4 126.7L99.2 126.7L93 126.7L86.8 126.7L80.6 126.7L74.4 126.7L68.2 126.7L62 126.7L55.8 126.7L49.6 126.7L43.4 126.7L37.2 126.7L31 126.7L24.8 126.7L21.8 126.7L24.8 121.7L26 119.2L29.1 111.7L31 104.4L31 104.3L31.8 96.9L32.8 89.4L37.2 83.5L38.2 82L42.1 74.5L43.4 72.8L46.1 67L46.5 59.6L49.6 54.1L55.8 54.7L62 55.4L68.2 58.4L74.4 54L79.6 52.1L80.6 51.8L81.1 52.2L86.8 56.6L93 54.3L96.5 52.1L99.2 50.7L105.4 48.8L110.5 44.7L111.6 42.9L116.5 37.2L117.8 35.2L124 30.5L126.5 37.2L130.1 44.7L130.2 44.7L136.4 46.7L142.3 44.7L142.6 44.3L148.8 39.2L152 37.2L155 34.4L161.2 30.6L162.7 29.8L167.4 27.1L173.6 24L177.2 22.4Z"/>
<path fill="#c8e1c8" fill-rule="evenodd" d="M179.8 36.9L179.8 37.2L179.8 44.7L179.8 52.1L179.8 59.6L179.8 67L179.8 74.5L179.8 82L179.8 89.4L179.8 96.9L179.8 104.3L179.8 111.8L179.8 119.2L179.8 126.7L173.6 126.7L167.4 126.7L161.2 126.7L155 126.7L148.8 126.7L142.6 126.7L136.4 126.7L130.2 126.7L124 126.7L117.8 126.7L111.6 126.7L105.4 126.7L99.2 126.7L93 126.7L86.8 126.7L80.6 126.7L74.4 126.7L68.2 126.7L62 126.7L55.8 126.7L49.6 126.7L43.4 126.7L37.2 126.7L34.6 126.7L36.8 119.2L37.2 117.5L38.3 111.8L38.7 104.3L38.1 96.9L38.4 89.4L43.2 82L43.4 81.5L47.8 74.5L49.6 69L50.1 67L53.9 59.6L55.8 59.1L60 59.6L62 59.9L68.2 63.5L72.8 59.6L74.4 58.4L80.6 54.8L85.7 59.6L86.8 61.1L89.7 59.6L93 58L99.2 53.6L102.8 52.1L105.4 51.2L111.6 46.6L117.8 46.4L123.4 44.7L124 43.9L124.3 44.7L130.2 48.1L136.4 49.9L142.6 49.5L148.8 48L155 46L158.8 44.7L161.2 43.6L167.4 41.2L173.6 39L178.9 37.2ZM61.5 82L62 84.1L68.2 83.9L68.8 82L68.2 80.9L62 81.6Z"/>
<path fill="#3c913c" fill-rule="evenodd" d="M111.6 49.4L117.8 49.3L124 49.2L130.2 51.4L133 52.1L136.4 53.5L142.6 54.6L148.8 54.6L155 54L161.2 53.1L167.4 52.2L167.5 52.1L173.6 51.1L179.8 50.1L179.8 52.1L179.8 59.6L179.8 67L179.8 74.5L179.8 82L179.8 89.4L179.8 96.9L179.8 104.3L179.8 111.8L179.8 119.2L179.8 126.7L173.6 126.7L167.4 126.7L161.2 126.7L155 126.7L148.8 126.7L142.6 126.7L136.4 126.7L130.2 126.7L124 126.7L117.8 126.7L111.6 126.7L105.4 126.7L99.2 126.7L93 126.7L86.8 126.7L80.6 126.7L74.4 126.7L68.2 126.7L62 126.7L55.8 126.7L49.6 126.7L46.9 126.7L48.5 119.2L49.5 111.8L49.6 104.3L47.5 96.9L43.9 89.4L49.6 82.3L55.3 89.4L55.8 91.3L62 95.9L68.2 92.8L69.9 89.4L71.6 81.9L68.2 75.9L62 77.3L55.8 81.8L54 74.5L54.2 67L55.8 64.8L62 64.3L66.4 67L68.2 70.7L69.6 67L74.4 62.8L77.6 59.6L80.6 57.7L82.6 59.6L86.8 65L93 61.5L94.9 59.6L99.2 56.2L105.4 54.2L107.8 52.1Z"/>
<path fill="#007300" fill-rule="evenodd" d="M99.2 58.9L105.4 57.7L111.6 52.7L117.8 52.5L124 54.9L130.2 56.5L136.4 58.4L141.6 59.6L142.6 59.9L148.8 60.9L155 61.4L161.2 61.7L167.4 61.9L173.6 62.1L179.8 62.3L179.8 67L179.8 74.5L179.8 82L179.8 89.4L179.8 96.9L179.8 104.3L179.8 111.8L179.8 119.2L179.8 126.7L173.6 126.7L167.4 126.7L161.2 126.7L155 126.7L148.8 126.7L142.6 126.7L136.4 126.7L130.2 126.7L124 126.7L117.8 126.7L111.6 126.7L105.4 126.7L99.2 126.7L93 126.7L86.8 126.7L80.6 126.7L74.4 126.7L68.2 126.7L62 126.7L60.1 126.7L61.8 119.2L62 118.5L64.1 111.8L68 104.3L68.2 104.1L71.8 96.9L73.8 89.4L74.4 82.1L74.4 82L74.4 81.9L71.7 74.5L74.4 67.8L75.3 67L80.6 62.9L83.4 67L86.8 68.5L89.5 67L93 64.9L98.3 59.6Z"/>
<path fill="#00820a" fill-rule="evenodd" d="M99.2 64.6L105.4 62.7L111.6 61.8L117.8 61L124 62.4L130.2 63.5L136.4 64.7L142.6 66.2L146.3 67L148.8 67.7L155 69.2L161.2 70.6L167.4 72L173.6 73.4L178.8 74.5L179.8 74.8L179.8 82L179.8 89.4L179.8 96.9L179.8 104.3L179.8 111.8L179.8 119.2L179.8 126.7L173.6 126.7L167.4 126.7L161.2 126.7L155 126.7L148.8 126.7L142.6 126.7L136.4 126.7L130.2 126.7L124 126.7L117.8 126.7L111.6 126.7L105.4 126.7L99.2 126.7L93 126.7L86.8 126.7L80.6 126.7L74.4 126.7L73.4 126.7L74.4 120.8L74.7 119.2L76.3 111.8L78.1 104.3L79.1 96.9L78.4 89.4L77.8 81.9L76.6 74.5L80.6 70.3L86.8 71.3L93 68.9L96.1 67Z"/>
<path fill="#0f871e" fill-rule="evenodd" d="M86.8 74.2L93 73.7L99.2 71.5L105.4 69.4L111.6 68.8L117.8 68.3L124 69.1L130.2 70.1L136.4 71.2L142.6 73.2L146.6 74.5L148.8 75.5L155 78.1L161.2 80.7L164.3 81.9L167.4 83.6L173.6 86.6L179.6 89.4L179.8 89.5L179.8 96.9L179.8 104.3L179.8 111.8L179.8 119.2L179.8 126.7L173.6 126.7L167.4 126.7L161.2 126.7L155 126.7L148.8 126.7L142.6 126.7L136.4 126.7L130.2 126.7L124 126.7L117.8 126.7L111.6 126.7L105.4 126.7L99.2 126.7L93 126.7L86.8 126.7L86.4 126.7L86.6 119.2L86.8 117.3L87.2 111.8L88 104.3L88.8 96.9L87.3 89.4L86.8 88.9L82.4 82L84.7 74.5Z"/>
<path fill="#2d8c55" fill-rule="evenodd" d="M111.6 74L117.8 73.6L124 73.9L126.7 74.5L130.2 75.5L136.4 78L142.6 81.1L144.4 82L148.8 85.2L155 89.4L155 89.4L161.2 94.7L164 96.8L167.4 100.3L171.8 104.3L173.6 106.4L178.9 111.8L179.8 113L179.8 119.2L179.8 126.7L173.6 126.7L167.4 126.7L161.2 126.7L155 126.7L148.8 126.7L142.6 126.7L136.4 126.7L130.2 126.7L124 126.7L117.8 126.7L111.6 126.7L105.4 126.7L100.2 126.7L99.2 121.5L98.8 119.2L98.2 111.8L98.2 104.3L99.2 96.9L99.2 96.7L99.6 89.4L99.2 82.4L99.2 82L99.2 81.9L105.4 75.6L109.2 74.5Z"/>
<path fill="#5aaa46" fill-rule="evenodd" d="M111.6 78L117.8 77.3L124 78.6L130.2 81.4L131.3 82L136.4 86.6L139.8 89.4L142.6 93.5L145.4 96.9L148.8 103.7L149.2 104.3L151.7 111.8L152.7 119.2L151.9 126.6L148.8 126.7L142.6 126.7L136.4 126.7L130.2 126.7L124 126.7L119.5 126.7L117.8 125.2L113.7 119.2L111.6 116L109.9 111.8L107.7 104.3L107.1 96.8L106.7 89.4L105.7 82Z"/>
<path fill="#96d732" fill-rule="evenodd" d="M111.6 81.8L117.8 80.7L121.2 82L124 84.9L128.6 89.4L130.2 96.1L130.5 96.9L130.2 97.9L124.4 104.3L124 104.5L123.7 104.3L117.8 102.5L114 96.9L111.6 92.3L110.9 89.4L111.4 82Z"/>
</g>
<path d="M19.4 109.7L17.9 108.9L15.9 107.4L14 106.7L13.2 104.9L14.5 102.9L14 100.9L14.8 98.4L15.1 96.4L14 94.4L15 91.9L15.9 90L17.1 88L17.9 86L16.7 84L17.4 81.8L19.9 80.5L22.9 81.5L24.9 79.5L26.9 77.2L29.9 76.5L32.9 76.9L34.4 75.4L36.9 73.9L39.4 72.4L41.4 70.7L40.9 69.4L38.4 68.7L34.9 70.4L31.9 71.9L29.4 71.4L28.4 68.9L28.9 66.4L30.9 64.9L31.4 62.9L29.9 60.9L29.9 59L31.9 57.8L35.9 57.5L38.4 57.5L39.9 57L43.9 53.5L46.3 51.5L48.8 52L50.8 50L53.8 47.5L60 47L62.9 45.7L65.9 44.4L68.4 42.9L68.9 39.9L70.9 37.4L73.4 35.4L76.3 34.9L78.8 33.1L80.8 33.4L81.6 35.9L81.3 38.9L82.5 38.4L84.5 38.9L86.4 40.4L87.7 43.4L87.9 45.9L89.4 45.4L90.9 43.4L93.1 44.9L95.4 45.4L96.7 44.4L96.1 42.4L97.4 40.9L98.9 38.4L99.4 35.4L100.9 32.4L102.9 29.4L105.4 26.4L108.4 23.9L111.4 21.4L113.9 18.5L114.9 16L116.3 15.5L117.8 17.5L118.8 16.5L120.8 14.5L123.8 13L126.8 11L130 8L132.9 6.8L135.9 6L138.4 4.5L140.9 4.5L143.9 4.5L146.9 4L149.9 4.5L152.9 4L155.9 4L158.9 3.5L161.8 3.5L164.8 2.8L166.8 4L168.8 5.5L170.8 7L170.3 9L167.8 9L164.8 9.4L161.8 8L158.9 7.5L155.9 9L152.9 8.8L150.9 9.9L150.4 12.4L147.9 14.4L145.4 16.4L143.4 18.9L140.9 20.9L138.4 22.4L137.1 24.4L138.1 26.9L137.4 29.4L136.4 31.9L138.4 33.4L140.9 34.4L142.1 36.4L142.9 39L144.4 41.4L142.9 44.4L142.4 46.9L143.4 49.4L142.4 51.9L141.4 54.4L140.4 56.9L138.9 58.9L138.4 61.9L138.9 64L138.4 66.5L136.9 68.5L134.4 69.5L131.4 71L128.9 72.5L126.9 72.2L124.4 71.8L121.5 72.5L119 74L117.5 75.9L117.8 77.9L119.5 79.4L121.5 80.4L121 82.4L121.5 84.9L123 86.4L123.9 88.4L123.4 90.9L122.5 93.4L120 95.9L117 98.4L114.5 100.4L112.5 100.9L110.3 100.1L108.3 98.4L106.3 100.1L104.3 98.4L102.3 97.1L99.8 97.4L97.4 99.1L94.9 98.7L92.4 98.1L90.4 95.9L88.9 93.4L86.4 91.4L82.9 90.4L78.9 90L75.4 88.5L71.9 88L69.4 87L67.5 89.2L65 87.5L62.5 88L60 91.9L57 94.4L53.8 96.9L51.3 98.9L48.8 100.4L45.8 101.4L42.9 101.4L41.4 100.4L39.9 98.9L37.9 97.4L36.9 95.4L37.7 93.4L36.9 91.4L34.9 90.4L32.9 91.4L30.9 92.9L28.9 94.7L26.9 96.4L25.7 98.1L25.4 99.9L24.4 101.4L22.7 102.9L21.7 104.9L22.1 106.7L20.9 108.4Z" fill="none" stroke="#1c1c1c" stroke-width="0.85" stroke-linejoin="round"/>
<rect x="0" y="0" width="173.6" height="119.2" fill="none" stroke="#383838" stroke-width="1.25"/>
</g>
<g transform="translate(36.1 180.1)">
<g clip-path="url(#m0)">
<rect x="0" y="0" width="173.6" height="119.2" fill="#6e8ceb"/>
<path fill="#becdf5" fill-rule="evenodd" d="M6.2 0L12.4 0L18.6 0L24.8 0L31 0L37.2 0L43.4 0L49.6 0L55.8 0L62 0L68.2 0L74.4 0L80.6 0L86.8 0L93 0L96 0L99.2 2.3L105.2 7.5L105.4 7.6L111.6 12.3L114.8 14.9L117.8 16.2L124 17.7L130.2 19.8L136.4 19.3L142.6 17.1L147.2 14.9L148.8 13.7L155 9.3L157.7 7.5L161.2 4.4L166.8 0L167.4 0L173.6 0L179.8 0L179.8 7.5L179.8 14.9L179.8 22.4L179.8 29.8L179.8 37.2L179.8 44.7L179.8 52.1L179.8 59.6L179.8 67L179.8 74.5L179.8 82L179.8 89.4L179.8 96.9L179.8 104.3L179.8 111.8L179.8 119.2L179.8 126.7L173.6 126.7L167.4 126.7L161.2 126.7L155 126.7L148.8 126.7L142.6 126.7L136.4 126.7L130.2 126.7L124 126.7L117.8 126.7L111.6 126.7L105.4 126.7L99.2 126.7L93 126.7L86.8 126.7L80.6 126.7L74.4 126.7L68.2 126.7L62 126.7L55.8 126.7L49.6 126.7L43.4 126.7L37.2 126.7L31 126.7L24.8 126.7L18.6 126.7L12.4 126.7L6.2 126.7L0 126.7L0 119.2L0 111.8L0 104.3L0 96.9L0 89.4L0 82L0 74.5L0 67L0 59.6L0 52.1L0 44.7L0 37.2L0 29.8L0 22.4L0 14.9L0 7.5L0 0Z"/>
<path fill="#c8e1c8" fill-rule="evenodd" d="M6.2 0L12.4 0L18.6 0L24.8 0L31 0L37.2 0L43.4 0L49.6 0L49.8 0L55.8 1.9L62 4.1L68.2 6.5L70.3 7.4L74.4 8.9L80.6 11.4L86.8 14.2L88.3 14.9L93 16.8L99.2 19.4L105.4 22.3L105.6 22.4L111.6 24.4L117.8 25.5L124 25.9L130.2 27.1L136.4 28.3L142.6 28.3L148.8 27.1L155 25.2L161.2 23L163 22.4L167.4 20.3L173.6 17.5L179.3 14.9L179.8 14.6L179.8 14.9L179.8 22.4L179.8 29.8L179.8 37.2L179.8 44.7L179.8 52.1L179.8 59.6L179.8 67L179.8 74.5L179.8 82L179.8 89.4L179.8 96.9L179.8 104.3L179.8 111.8L179.8 119.2L179.8 126.7L173.6 126.7L167.4 126.7L161.2 126.7L155 126.7L148.8 126.7L142.6 126.7L136.4 126.7L130.2 126.7L124 126.7L117.8 126.7L111.6 126.7L105.4 126.7L99.2 126.7L93 126.7L86.8 126.7L80.6 126.7L74.4 126.7L68.2 126.7L62 126.7L55.8 126.7L49.6 126.7L43.4 126.7L37.2 126.7L31 126.7L24.8 126.7L18.6 126.7L12.4 126.7L6.2 126.7L0 126.7L0 119.2L0 111.8L0 104.3L0 96.9L0 89.4L0 82L0 74.5L0 67L0 59.6L0 52.1L0 44.7L0 37.2L0 29.8L0 22.4L0 14.9L0 7.5L0 0Z"/>
<path fill="#3c913c" fill-rule="evenodd" d="M6.2 21.6L12.4 21.5L18.6 21.3L24.8 21.2L31 21.2L37.2 21.3L43.4 21.6L49.6 22.1L51.6 22.4L55.8 22.8L62 23.6L68.2 24.7L74.4 25.8L80.6 27L86.8 28.2L93 29.4L95.1 29.8L99.2 30.5L105.4 31.6L111.6 32.7L117.8 33.1L124 33.9L130.2 35.4L135.5 37.2L136.4 37.6L142.6 38.2L148.8 37.8L152.6 37.2L155 36.9L161.2 35.7L167.4 34.4L173.6 33L179.8 31.5L179.8 37.2L179.8 44.7L179.8 52.1L179.8 59.6L179.8 67L179.8 74.5L179.8 82L179.8 89.4L179.8 96.9L179.8 104.3L179.8 111.8L179.8 119.2L179.8 126.7L173.6 126.7L167.4 126.7L161.2 126.7L155 126.7L148.8 126.7L142.6 126.7L136.4 126.7L130.2 126.7L124 126.7L117.8 126.7L111.6 126.7L105.4 126.7L99.2 126.7L93 126.7L86.8 126.7L80.6 126.7L74.4 126.7L68.2 126.7L62 126.7L55.8 126.7L49.6 126.7L43.4 126.7L37.2 126.7L31 126.7L24.8 126.7L18.6 126.7L12.4 126.7L6.2 126.7L0 126.7L0 119.2L0 111.8L0 104.3L0 96.9L0 89.4L0 82L0 74.5L0 67L0 59.6L0 52.1L0 44.7L0 37.2L0 29.8L0 22.4L0 21.7Z"/>
<path fill="#007300" fill-rule="evenodd" d="M31 44.2L37.2 42.4L43.4 40.9L49.6 40L55.8 39.5L62 39.5L68.2 39.7L74.4 39.9L80.6 40L86.8 40.2L93 40L99.2 39.8L105.4 39.8L111.6 40.7L117.8 41.6L124 42.5L130.2 44.5L130.7 44.7L136.4 46.6L142.6 47.1L148.8 46.9L155 46.8L161.2 46.5L167.4 46.3L173.6 46L179.8 45.6L179.8 52.1L179.8 59.6L179.8 67L179.8 74.5L179.8 82L179.8 89.4L179.8 96.9L179.8 104.3L179.8 111.8L179.8 119.2L179.8 126.7L173.6 126.7L167.4 126.7L161.2 126.7L155 126.7L148.8 126.7L142.6 126.7L136.4 126.7L130.2 126.7L124 126.7L117.8 126.7L111.6 126.7L105.4 126.7L99.2 126.7L93 126.7L86.8 126.7L80.6 126.7L74.4 126.7L68.2 126.7L62 126.7L55.8 126.7L49.6 126.7L43.4 126.7L37.2 126.7L31 126.7L24.8 126.7L18.6 126.7L12.4 126.7L6.2 126.7L0 126.7L0 119.2L0 111.8L0 104.3L0 96.9L0 89.4L0 82L0 74.5L0 67L0 59.6L0 54.9L6.2 53L8.8 52.1L12.4 51L18.6 48.7L24.8 46.4L29.5 44.7Z"/>
<path fill="#00820a" fill-rule="evenodd" d="M86.8 52L93 50.6L99.2 49.4L105.4 48.7L111.6 49.6L117.8 50.2L124 50.2L130.2 51.3L132.7 52.1L136.4 53.2L142.6 54.3L148.8 55.1L155 55.8L161.2 56.6L167.4 57.3L173.6 58.1L179.8 58.8L179.8 59.6L179.8 67L179.8 74.5L179.8 82L179.8 89.4L179.8 96.9L179.8 104.3L179.8 111.8L179.8 119.2L179.8 126.7L173.6 126.7L167.4 126.7L161.2 126.7L155 126.7L148.8 126.7L142.6 126.7L136.4 126.7L130.2 126.7L124 126.7L117.8 126.7L111.6 126.7L105.4 126.7L99.2 126.7L93 126.7L86.8 126.7L80.6 126.7L74.4 126.7L68.2 126.7L62 126.7L55.8 126.7L49.6 126.7L43.4 126.7L37.2 126.7L31 126.7L24.8 126.7L18.6 126.7L12.4 126.7L6.2 126.7L0 126.7L0 119.2L0 111.8L0 104.3L0 96.9L0 89.4L0 89.1L6.2 87L12.4 84.4L16.4 82L18.6 80.6L24.8 76L26.6 74.5L31 70.6L34.5 67L37.2 64.8L43 59.6L43.4 59.3L49.6 56.8L55.8 54.4L62 53.4L68.2 53.3L74.4 53L80.6 52.5L85.1 52.1Z"/>
<path fill="#0f871e" fill-rule="evenodd" d="M99.2 58.4L105.4 57.5L111.6 57.4L117.8 57.1L124 56.4L130.2 57.1L136.4 59L138.3 59.6L142.6 61.2L148.8 63.2L155 65L161.2 66.8L162.1 67L167.4 68.7L173.6 70.6L179.8 72.5L179.8 74.5L179.8 82L179.8 89.4L179.8 96.9L179.8 104.3L179.8 111.8L179.8 119.2L179.8 126.7L173.6 126.7L167.4 126.7L161.2 126.7L155 126.7L148.8 126.7L142.6 126.7L136.4 126.7L130.2 126.7L124 126.7L117.8 126.7L111.6 126.7L105.4 126.7L99.2 126.7L93 126.7L86.8 126.7L80.6 126.7L74.4 126.7L68.2 126.7L62 126.7L55.8 126.7L49.6 126.7L43.4 126.7L37.2 126.7L31 126.7L24.8 126.7L18.6 126.7L12.4 126.7L6.2 126.7L0 126.7L0 119.2L0 116.6L6.2 113.3L8.9 111.8L12.4 110L18.6 106.3L21.1 104.3L24.8 101.3L29.2 96.9L31 95.1L36.4 89.4L37.2 88.6L42.9 82L43.4 81.4L49.6 75.1L50.3 74.5L55.8 70.2L61.2 67L62 66.6L68.2 64.2L74.4 62.8L80.6 61.9L86.8 61.3L93 59.7L93.6 59.6Z"/>
<path fill="#2d8c55" fill-rule="evenodd" d="M93 66.6L99.2 65.2L105.4 64.4L111.6 64L117.8 63.4L124 62.5L130.2 63.4L136.4 66.1L138.6 67.1L142.6 69.3L148.8 72.4L153.3 74.5L155 75.5L161.2 78.7L167.4 81.7L167.9 82L173.6 85.1L179.8 88.3L179.8 89.4L179.8 96.9L179.8 104.3L179.8 111.8L179.8 119.2L179.8 126.7L173.6 126.7L167.4 126.7L161.2 126.7L155 126.7L148.8 126.7L142.6 126.7L136.4 126.7L130.2 126.7L124 126.7L117.8 126.7L111.6 126.7L105.4 126.7L99.2 126.7L93 126.7L86.8 126.7L80.6 126.7L74.4 126.7L68.2 126.7L62 126.7L55.8 126.7L49.6 126.7L43.4 126.7L37.2 126.7L31 126.7L24.8 126.7L21.8 126.7L24.8 123.7L28.6 119.2L31 116.6L34.7 111.8L37.2 108.7L40.1 104.3L43.4 99.8L45.2 96.8L49.6 90.3L50.1 89.4L55.8 83L57.1 82L62 78L67.8 74.5L68.2 74.3L74.4 71.7L80.6 69.8L86.8 68.2L91.4 67Z"/>
<path fill="#5aaa46" fill-rule="evenodd" d="M93 73.7L99.2 72.1L105.4 71.3L111.6 70.9L117.8 70.4L124 69.9L130.2 71.9L134.7 74.5L136.4 75.7L142.6 80.1L145.5 81.9L148.8 84.6L155 89.2L155.3 89.4L161.2 94.3L164.6 96.9L167.4 99.3L173.5 104.3L173.6 104.4L179.8 109.9L179.8 111.8L179.8 119.2L179.8 126.7L173.6 126.7L167.4 126.7L161.2 126.7L155 126.7L148.8 126.7L142.6 126.7L136.4 126.7L130.2 126.7L124 126.7L117.8 126.7L111.6 126.7L105.4 126.7L99.2 126.7L93 126.7L86.8 126.7L80.6 126.7L74.4 126.7L68.2 126.7L62 126.7L55.8 126.7L49.6 126.7L44.5 126.7L48.2 119.2L49.6 116.3L51.6 111.8L55 104.3L55.8 102.5L58.5 96.9L62 91.6L63.6 89.4L68.2 85.4L72.2 82L74.4 80.7L80.6 78.1L86.8 75.7L90.2 74.5Z"/>
<path fill="#96d732" fill-rule="evenodd" d="M99.2 80.6L105.4 79.4L111.6 79.2L117.8 79.6L124 80.9L126.2 82L130.2 84.6L135.9 89.4L136.4 89.9L142.6 96.7L142.8 96.9L148.8 104.3L148.8 104.4L154.2 111.8L155 113L159.3 119.2L161.2 122.3L164.2 126.7L161.2 126.7L155 126.7L148.8 126.7L142.6 126.7L136.4 126.7L130.2 126.7L124 126.7L117.8 126.7L111.6 126.7L105.4 126.7L99.2 126.7L93 126.7L86.8 126.7L80.6 126.7L74.4 126.7L68.2 126.7L64.9 126.7L66.6 119.2L68.2 112.8L68.5 111.8L71 104.3L74.4 97L74.5 96.9L80.6 89.5L80.7 89.4L86.8 85.7L93 82.7L94.8 82Z"/>
<path fill="#cddc28" fill-rule="evenodd" d="M111.6 89.1L114 89.4L117.8 91.1L122.1 96.9L124 100.8L125.6 104.3L127.9 111.8L129.5 119.2L130.2 126.5L130.2 126.7L130.2 126.7L124 126.7L117.8 126.7L111.6 126.7L105.4 126.7L99.2 126.7L93 126.7L91.6 126.7L90.4 119.2L90.1 111.8L91.1 104.3L93 98.7L93.8 96.9L99.2 93.3L105.4 90.9L109.7 89.4Z"/>
</g>
<path d="M19.4 109.7L17.9 108.9L15.9 107.4L14 106.7L13.2 104.9L14.5 102.9L14 100.9L14.8 98.4L15.1 96.4L14 94.4L15 91.9L15.9 90L17.1 88L17.9 86L16.7 84L17.4 81.8L19.9 80.5L22.9 81.5L24.9 79.5L26.9 77.2L29.9 76.5L32.9 76.9L34.4 75.4L36.9 73.9L39.4 72.4L41.4 70.7L40.9 69.4L38.4 68.7L34.9 70.4L31.9 71.9L29.4 71.4L28.4 68.9L28.9 66.4L30.9 64.9L31.4 62.9L29.9 60.9L29.9 59L31.9 57.8L35.9 57.5L38.4 57.5L39.9 57L43.9 53.5L46.3 51.5L48.8 52L50.8 50L53.8 47.5L60 47L62.9 45.7L65.9 44.4L68.4 42.9L68.9 39.9L70.9 37.4L73.4 35.4L76.3 34.9L78.8 33.1L80.8 33.4L81.6 35.9L81.3 38.9L82.5 38.4L84.5 38.9L86.4 40.4L87.7 43.4L87.9 45.9L89.4 45.4L90.9 43.4L93.1 44.9L95.4 45.4L96.7 44.4L96.1 42.4L97.4 40.9L98.9 38.4L99.4 35.4L100.9 32.4L102.9 29.4L105.4 26.4L108.4 23.9L111.4 21.4L113.9 18.5L114.9 16L116.3 15.5L117.8 17.5L118.8 16.5L120.8 14.5L123.8 13L126.8 11L130 8L132.9 6.8L135.9 6L138.4 4.5L140.9 4.5L143.9 4.5L146.9 4L149.9 4.5L152.9 4L155.9 4L158.9 3.5L161.8 3.5L164.8 2.8L166.8 4L168.8 5.5L170.8 7L170.3 9L167.8 9L164.8 9.4L161.8 8L158.9 7.5L155.9 9L152.9 8.8L150.9 9.9L150.4 12.4L147.9 14.4L145.4 16.4L143.4 18.9L140.9 20.9L138.4 22.4L137.1 24.4L138.1 26.9L137.4 29.4L136.4 31.9L138.4 33.4L140.9 34.4L142.1 36.4L142.9 39L144.4 41.4L142.9 44.4L142.4 46.9L143.4 49.4L142.4 51.9L141.4 54.4L140.4 56.9L138.9 58.9L138.4 61.9L138.9 64L138.4 66.5L136.9 68.5L134.4 69.5L131.4 71L128.9 72.5L126.9 72.2L124.4 71.8L121.5 72.5L119 74L117.5 75.9L117.8 77.9L119.5 79.4L121.5 80.4L121 82.4L121.5 84.9L123 86.4L123.9 88.4L123.4 90.9L122.5 93.4L120 95.9L117 98.4L114.5 100.4L112.5 100.9L110.3 100.1L108.3 98.4L106.3 100.1L104.3 98.4L102.3 97.1L99.8 97.4L97.4 99.1L94.9 98.7L92.4 98.1L90.4 95.9L88.9 93.4L86.4 91.4L82.9 90.4L78.9 90L75.4 88.5L71.9 88L69.4 87L67.5 89.2L65 87.5L62.5 88L60 91.9L57 94.4L53.8 96.9L51.3 98.9L48.8 100.4L45.8 101.4L42.9 101.4L41.4 100.4L39.9 98.9L37.9 97.4L36.9 95.4L37.7 93.4L36.9 91.4L34.9 90.4L32.9 91.4L30.9 92.9L28.9 94.7L26.9 96.4L25.7 98.1L25.4 99.9L24.4 101.4L22.7 102.9L21.7 104.9L22.1 106.7L20.9 108.4Z" fill="none" stroke="#1c1c1c" stroke-width="0.85" stroke-linejoin="round"/>
<rect x="0" y="0" width="173.6" height="119.2" fill="none" stroke="#383838" stroke-width="1.25"/>
<line x1="-3" y1="0" x2="0" y2="0" stroke="#383838" stroke-width="1"/>
<text class="a" x="-20.3" y="3.5" textLength="15.3" lengthAdjust="spacingAndGlyphs">37N</text>
<line x1="-3" y1="29.8" x2="0" y2="29.8" stroke="#383838" stroke-width="1"/>
<text class="a" x="-20.3" y="33.3" textLength="15.3" lengthAdjust="spacingAndGlyphs">36N</text>
<line x1="-3" y1="59.6" x2="0" y2="59.6" stroke="#383838" stroke-width="1"/>
<text class="a" x="-20.3" y="63.1" textLength="15.3" lengthAdjust="spacingAndGlyphs">35N</text>
<line x1="-3" y1="89.4" x2="0" y2="89.4" stroke="#383838" stroke-width="1"/>
<text class="a" x="-20.3" y="92.9" textLength="15.3" lengthAdjust="spacingAndGlyphs">34N</text>
<line x1="-3" y1="119.2" x2="0" y2="119.2" stroke="#383838" stroke-width="1"/>
<text class="a" x="-20.3" y="122.7" textLength="15.3" lengthAdjust="spacingAndGlyphs">33N</text>
</g>
<g transform="translate(226.9 180.1)">
<g clip-path="url(#m0)">
<rect x="0" y="0" width="173.6" height="119.2" fill="#00820a"/>
<path fill="#0f871e" fill-rule="evenodd" d="M6.2 0L12.4 0L18.6 0L24.8 0L31 0L37.2 0L43.4 0L49.6 0L55.8 0L62 0L68.2 0L74.4 0L80.6 0L86.8 0L93 0L99.2 0L105.4 0L108.6 0L111.6 3L115.5 7.5L117.8 9.4L124 14.3L124.7 14.9L130.2 16.8L136.4 17.5L142.6 15.2L143.2 14.9L148.8 10.2L152.6 7.5L155 4.8L160.3 0L161.2 0L167.4 0L173.6 0L179.8 0L179.8 7.5L179.8 14.9L179.8 22.4L179.8 29.8L179.8 37.2L179.8 44.7L179.8 52.1L179.8 59.6L179.8 67L179.8 74.5L179.8 82L179.8 89.4L179.8 96.9L179.8 104.3L179.8 111.8L179.8 119.2L179.8 126.7L173.6 126.7L167.4 126.7L161.2 126.7L155 126.7L148.8 126.7L142.6 126.7L136.4 126.7L130.2 126.7L124 126.7L117.8 126.7L111.6 126.7L105.4 126.7L99.2 126.7L93 126.7L86.8 126.7L80.6 126.7L74.4 126.7L68.2 126.7L62 126.7L55.8 126.7L49.6 126.7L43.4 126.7L37.2 126.7L31 126.7L24.8 126.7L18.6 126.7L12.4 126.7L6.2 126.7L0 126.7L0 119.2L0 111.8L0 104.3L0 96.9L0 89.4L0 82L0 74.5L0 67L0 59.6L0 52.1L0 44.7L0 37.2L0 29.8L0 22.4L0 14.9L0 7.5L0 0Z"/>
<path fill="#2d8c55" fill-rule="evenodd" d="M6.2 0L12.4 0L18.6 0L24.8 0L31 0L37.2 0L43.4 0L49.6 0L55.8 0L62 0L68.2 0L74.4 0L80.6 0L81.2 0L86.8 3.8L91.8 7.5L93 8.2L99.2 12.1L103.3 14.9L105.4 15.9L111.6 19.1L117.8 22L118.6 22.4L124 23.7L130.2 24.3L136.4 24.5L142.6 23.8L148.8 22.4L148.9 22.4L155 20L161.2 17.4L166.7 14.9L167.4 14.5L173.6 11.1L179.8 7.8L179.8 14.9L179.8 22.4L179.8 29.8L179.8 37.2L179.8 44.7L179.8 52.1L179.8 59.6L179.8 67L179.8 74.5L179.8 82L179.8 89.4L179.8 96.9L179.8 104.3L179.8 111.8L179.8 119.2L179.8 126.7L173.6 126.7L167.4 126.7L161.2 126.7L155 126.7L148.8 126.7L142.6 126.7L136.4 126.7L130.2 126.7L124 126.7L117.8 126.7L111.6 126.7L105.4 126.7L99.2 126.7L93 126.7L86.8 126.7L80.6 126.7L74.4 126.7L68.2 126.7L62 126.7L55.8 126.7L49.6 126.7L43.4 126.7L37.2 126.7L31 126.7L24.8 126.7L18.6 126.7L12.4 126.7L6.2 126.7L0 126.7L0 119.2L0 111.8L0 104.3L0 96.9L0 89.4L0 82L0 74.5L0 67L0 59.6L0 52.1L0 44.7L0 37.2L0 29.8L0 22.4L0 14.9L0 7.5L0 0Z"/>
<path fill="#5aaa46" fill-rule="evenodd" d="M6.2 0L12.4 0L18.6 0L24.8 0L31 0L37.2 0L40.2 0L43.4 1.3L49.6 4L55.8 6.9L56.8 7.5L62 9.8L68.2 12.6L72.9 14.9L74.4 15.5L80.6 18.1L86.8 20.7L90.9 22.4L93 23L99.2 25.1L105.4 27L111.6 28.5L117.8 28.8L124 29.5L126.5 29.8L130.2 30.3L136.4 31L142.6 31.3L148.8 31L155 30.3L157.9 29.8L161.2 29.2L167.4 27.7L173.6 26.1L179.8 24.4L179.8 29.8L179.8 37.2L179.8 44.7L179.8 52.1L179.8 59.6L179.8 67L179.8 74.5L179.8 82L179.8 89.4L179.8 96.9L179.8 104.3L179.8 111.8L179.8 119.2L179.8 126.7L173.6 126.7L167.4 126.7L161.2 126.7L155 126.7L148.8 126.7L142.6 126.7L136.4 126.7L130.2 126.7L124 126.7L117.8 126.7L111.6 126.7L105.4 126.7L99.2 126.7L93 126.7L86.8 126.7L80.6 126.7L74.4 126.7L68.2 126.7L62 126.7L55.8 126.7L49.6 126.7L43.4 126.7L37.2 126.7L31 126.7L24.8 126.7L18.6 126.7L12.4 126.7L6.2 126.7L0 126.7L0 119.2L0 111.8L0 104.3L0 96.9L0 89.4L0 82L0 74.5L0 67L0 59.6L0 52.1L0 44.7L0 37.2L0 29.8L0 22.4L0 14.9L0 7.5L0 0Z"/>
<path fill="#96d732" fill-rule="evenodd" d="M6.2 16.1L12.4 16.9L18.6 17.8L24.8 18.8L31 19.9L37.2 21.1L42.5 22.4L43.4 22.5L49.6 24.1L55.8 25.8L62 27.6L68.2 29.4L69.4 29.8L74.4 31L80.6 32.3L86.8 33.4L93 34.3L99.2 35.1L105.4 35.8L111.6 35.8L117.8 35.5L124 35.7L130.2 36.5L133.9 37.2L136.4 37.9L142.6 39L148.8 39.5L155 39.6L161.2 39.4L167.4 39.1L173.6 38.6L179.8 38.1L179.8 44.7L179.8 52.1L179.8 59.6L179.8 67L179.8 74.5L179.8 82L179.8 89.4L179.8 96.9L179.8 104.3L179.8 111.8L179.8 119.2L179.8 126.7L173.6 126.7L167.4 126.7L161.2 126.7L155 126.7L148.8 126.7L142.6 126.7L136.4 126.7L130.2 126.7L124 126.7L117.8 126.7L111.6 126.7L105.4 126.7L99.2 126.7L93 126.7L86.8 126.7L80.6 126.7L74.4 126.7L68.2 126.7L62 126.7L55.8 126.7L49.6 126.7L43.4 126.7L37.2 126.7L31 126.7L24.8 126.7L18.6 126.7L12.4 126.7L6.2 126.7L0 126.7L0 119.2L0 111.8L0 104.3L0 96.9L0 89.4L0 82L0 74.5L0 67L0 59.6L0 52.1L0 44.7L0 37.2L0 29.8L0 22.4L0 15.3Z"/>
<path fill="#cddc28" fill-rule="evenodd" d="M6.2 42.9L12.4 42.1L18.6 41.2L24.8 40.5L31 40L37.2 39.8L43.4 39.9L49.6 40.5L55.8 41.5L62 42.8L68.2 44.4L70.8 44.7L74.4 45L80.6 44.9L85.6 44.7L86.8 44.7L93 44.5L99.2 44.3L105.4 43.7L111.6 43.9L117.8 43.8L124 43.9L129.4 44.7L130.2 44.8L136.4 46.4L142.6 47.5L148.8 48.2L155 48.9L161.2 49.4L167.4 49.9L173.6 50.4L179.8 50.8L179.8 52.1L179.8 59.6L179.8 67L179.8 74.5L179.8 82L179.8 89.4L179.8 96.9L179.8 104.3L179.8 111.8L179.8 119.2L179.8 126.7L173.6 126.7L167.4 126.7L161.2 126.7L155 126.7L148.8 126.7L142.6 126.7L136.4 126.7L130.2 126.7L124 126.7L117.8 126.7L111.6 126.7L105.4 126.7L99.2 126.7L93 126.7L86.8 126.7L80.6 126.7L74.4 126.7L68.2 126.7L62 126.7L55.8 126.7L49.6 126.7L43.4 126.7L37.2 126.7L31 126.7L24.8 126.7L18.6 126.7L12.4 126.7L6.2 126.7L0 126.7L0 119.2L0 111.8L0 104.3L0 96.9L0 89.4L0 82L0 74.5L0 67L0 59.6L0 52.1L0 44.7L0 43.8Z"/>
<path fill="#ffdc1e" fill-rule="evenodd" d="M37.2 57.5L43.4 55.5L49.6 55.2L55.8 55.3L62 55.9L68.2 56.6L74.4 56.3L80.6 55.2L86.8 54L93 53.6L99.2 53.8L105.4 53.4L111.6 53.2L117.8 53.2L124 53.2L130.2 53.8L136.4 55.1L142.6 56L148.8 57.1L155 58.3L161.2 59.6L161.3 59.6L167.4 60.9L173.6 62.3L179.8 63.7L179.8 67L179.8 74.5L179.8 82L179.8 89.4L179.8 96.9L179.8 104.3L179.8 111.8L179.8 119.2L179.8 126.7L173.6 126.7L167.4 126.7L161.2 126.7L155 126.7L148.8 126.7L142.6 126.7L136.4 126.7L130.2 126.7L124 126.7L117.8 126.7L111.6 126.7L105.4 126.7L99.2 126.7L93 126.7L86.8 126.7L80.6 126.7L74.4 126.7L68.2 126.7L62 126.7L55.8 126.7L49.6 126.7L43.4 126.7L37.2 126.7L31 126.7L24.8 126.7L18.6 126.7L12.4 126.7L6.2 126.7L0 126.7L0 119.2L0 111.8L0 104.3L0 96.9L0 89.4L0 82L0 76.2L4.4 74.5L6.2 73.8L12.4 71.1L18.6 67.6L19.4 67L24.8 64.1L31 60.4L32.3 59.6Z"/>
<path fill="#ffb919" fill-rule="evenodd" d="M74.4 66.9L80.6 64.8L86.8 62.8L93 62.1L99.2 61.8L105.4 61.4L111.6 61.1L117.8 60.8L124 60.4L130.2 60.9L136.4 62.5L142.6 64.2L148.8 66.1L151.7 67L155 68.3L161.2 70.6L167.4 72.9L171.7 74.5L173.6 75.3L179.8 77.8L179.8 82L179.8 89.4L179.8 96.9L179.8 104.3L179.8 111.8L179.8 119.2L179.8 126.7L173.6 126.7L167.4 126.7L161.2 126.7L155 126.7L148.8 126.7L142.6 126.7L136.4 126.7L130.2 126.7L124 126.7L117.8 126.7L111.6 126.7L105.4 126.7L99.2 126.7L93 126.7L86.8 126.7L80.6 126.7L74.4 126.7L68.2 126.7L62 126.7L55.8 126.7L49.6 126.7L43.4 126.7L37.2 126.7L31 126.7L24.8 126.7L18.6 126.7L12.4 126.7L6.2 126.7L0 126.7L0 119.2L0 111.8L0 110.9L6.2 108.4L12.4 105.8L15.7 104.3L18.6 103.1L24.8 99.1L27.7 96.9L31 93.8L36.1 89.4L37.2 88.3L43.4 82.6L44.1 82L49.6 76.7L52.5 74.5L55.8 72.8L62 70.1L68.2 68.6L73.8 67Z"/>
<path fill="#ffa014" fill-rule="evenodd" d="M124 66.7L126.6 67L130.2 67.7L136.4 70.5L142.6 73.3L145.3 74.5L148.8 76.5L155 79.8L159 82L161.2 83.4L167.4 87.2L171.2 89.4L173.6 91.1L179.8 95.1L179.8 96.9L179.8 104.3L179.8 111.8L179.8 119.2L179.8 126.7L173.6 126.7L167.4 126.7L161.2 126.7L155 126.7L148.8 126.7L142.6 126.7L136.4 126.7L130.2 126.7L124 126.7L117.8 126.7L111.6 126.7L105.4 126.7L99.2 126.7L93 126.7L86.8 126.7L80.6 126.7L74.4 126.7L68.2 126.7L62 126.7L55.8 126.7L49.6 126.7L43.4 126.7L37.2 126.7L31 126.7L24.9 126.7L31 121.2L33 119.2L37.2 115.2L40.4 111.8L43.4 108.8L47.4 104.3L49.6 102.1L54.2 96.8L55.8 95.3L60.5 89.4L62 87.7L67.2 81.9L68.2 81.2L74.4 78L80.6 75.3L82.2 74.5L86.8 72.5L93 70.7L99.2 69.5L105.4 68.7L111.6 68L117.8 67.4L120.5 67Z"/>
<path fill="#ff960f" fill-rule="evenodd" d="M93 80.1L99.2 77.9L105.4 76.4L111.6 75.5L117.8 74.9L124 74.8L130.2 77.2L136.4 80.7L138.5 82L142.6 85.2L148.2 89.4L148.8 90L155 95.6L156.6 96.9L161.2 101.6L164.2 104.3L167.4 107.9L171.3 111.8L173.6 114.5L178.1 119.2L179.8 121.3L179.8 126.7L173.6 126.7L167.4 126.7L161.2 126.7L155 126.7L148.8 126.7L142.6 126.7L136.4 126.7L130.2 126.7L124 126.7L117.8 126.7L111.6 126.7L105.4 126.7L99.2 126.7L93 126.7L86.8 126.7L80.6 126.7L74.4 126.7L68.2 126.7L62 126.7L55.8 126.7L54.8 126.7L55.8 125.1L59.1 119.2L62 114.3L63.3 111.8L67.6 104.3L68.2 103.3L72 96.9L74.4 93.2L77.4 89.4L80.6 87.1L86.8 82.5L87.9 81.9Z"/>
<path fill="#ff820a" fill-rule="evenodd" d="M105.4 86L111.6 84.3L117.8 84.3L124 85.9L129.6 89.4L130.2 90.1L136.3 96.9L136.4 96.9L141.3 104.3L142.6 106.8L145.5 111.8L148.8 118.5L149.2 119.2L152.5 126.7L148.8 126.7L142.6 126.7L136.4 126.7L130.2 126.7L124 126.7L117.8 126.7L111.6 126.7L105.4 126.7L99.2 126.7L93 126.7L86.8 126.7L80.7 126.7L82.5 119.2L84.6 111.7L86.8 106.3L87.6 104.3L92.1 96.9L93 95.9L99.2 89.8L99.6 89.4Z"/>
</g>
<path d="M19.4 109.7L17.9 108.9L15.9 107.4L14 106.7L13.2 104.9L14.5 102.9L14 100.9L14.8 98.4L15.1 96.4L14 94.4L15 91.9L15.9 90L17.1 88L17.9 86L16.7 84L17.4 81.8L19.9 80.5L22.9 81.5L24.9 79.5L26.9 77.2L29.9 76.5L32.9 76.9L34.4 75.4L36.9 73.9L39.4 72.4L41.4 70.7L40.9 69.4L38.4 68.7L34.9 70.4L31.9 71.9L29.4 71.4L28.4 68.9L28.9 66.4L30.9 64.9L31.4 62.9L29.9 60.9L29.9 59L31.9 57.8L35.9 57.5L38.4 57.5L39.9 57L43.9 53.5L46.3 51.5L48.8 52L50.8 50L53.8 47.5L60 47L62.9 45.7L65.9 44.4L68.4 42.9L68.9 39.9L70.9 37.4L73.4 35.4L76.3 34.9L78.8 33.1L80.8 33.4L81.6 35.9L81.3 38.9L82.5 38.4L84.5 38.9L86.4 40.4L87.7 43.4L87.9 45.9L89.4 45.4L90.9 43.4L93.1 44.9L95.4 45.4L96.7 44.4L96.1 42.4L97.4 40.9L98.9 38.4L99.4 35.4L100.9 32.4L102.9 29.4L105.4 26.4L108.4 23.9L111.4 21.4L113.9 18.5L114.9 16L116.3 15.5L117.8 17.5L118.8 16.5L120.8 14.5L123.8 13L126.8 11L130 8L132.9 6.8L135.9 6L138.4 4.5L140.9 4.5L143.9 4.5L146.9 4L149.9 4.5L152.9 4L155.9 4L158.9 3.5L161.8 3.5L164.8 2.8L166.8 4L168.8 5.5L170.8 7L170.3 9L167.8 9L164.8 9.4L161.8 8L158.9 7.5L155.9 9L152.9 8.8L150.9 9.9L150.4 12.4L147.9 14.4L145.4 16.4L143.4 18.9L140.9 20.9L138.4 22.4L137.1 24.4L138.1 26.9L137.4 29.4L136.4 31.9L138.4 33.4L140.9 34.4L142.1 36.4L142.9 39L144.4 41.4L142.9 44.4L142.4 46.9L143.4 49.4L142.4 51.9L141.4 54.4L140.4 56.9L138.9 58.9L138.4 61.9L138.9 64L138.4 66.5L136.9 68.5L134.4 69.5L131.4 71L128.9 72.5L126.9 72.2L124.4 71.8L121.5 72.5L119 74L117.5 75.9L117.8 77.9L119.5 79.4L121.5 80.4L121 82.4L121.5 84.9L123 86.4L123.9 88.4L123.4 90.9L122.5 93.4L120 95.9L117 98.4L114.5 100.4L112.5 100.9L110.3 100.1L108.3 98.4L106.3 100.1L104.3 98.4L102.3 97.1L99.8 97.4L97.4 99.1L94.9 98.7L92.4 98.1L90.4 95.9L88.9 93.4L86.4 91.4L82.9 90.4L78.9 90L75.4 88.5L71.9 88L69.4 87L67.5 89.2L65 87.5L62.5 88L60 91.9L57 94.4L53.8 96.9L51.3 98.9L48.8 100.4L45.8 101.4L42.9 101.4L41.4 100.4L39.9 98.9L37.9 97.4L36.9 95.4L37.7 93.4L36.9 91.4L34.9 90.4L32.9 91.4L30.9 92.9L28.9 94.7L26.9 96.4L25.7 98.1L25.4 99.9L24.4 101.4L22.7 102.9L21.7 104.9L22.1 106.7L20.9 108.4Z" fill="none" stroke="#1c1c1c" stroke-width="0.85" stroke-linejoin="round"/>
<rect x="0" y="0" width="173.6" height="119.2" fill="none" stroke="#383838" stroke-width="1.25"/>
</g>
<g transform="translate(417.6 180.1)">
<g clip-path="url(#m0)">
<rect x="0" y="0" width="173.6" height="119.2" fill="#4471b4"/>
<path fill="#5078d7" fill-rule="evenodd" d="M6.2 24.7L12.4 24.8L18.6 25L24.8 25.3L31 25.9L37.2 26.8L43.4 28.1L49.3 29.8L49.6 29.9L55.8 31.8L62 34L68.2 36.4L70.5 37.2L74.4 38.4L80.6 40.2L86.8 42L93 44.3L93.9 44.7L99.2 46.3L105.4 48.3L111.6 49.3L117.8 48.7L124 49.1L130.2 50.6L134.1 52.2L136.4 52.6L138 52.1L142.6 49.2L148.8 45.9L151.1 44.7L155 41.8L161.2 37.9L162.3 37.2L167.4 33.5L173.2 29.8L173.6 29.5L179.8 25.1L179.8 29.8L179.8 37.2L179.8 44.7L179.8 52.1L179.8 59.6L179.8 67L179.8 74.5L179.8 82L179.8 89.4L179.8 96.9L179.8 104.3L179.8 111.8L179.8 119.2L179.8 126.7L173.6 126.7L167.4 126.7L161.2 126.7L155 126.7L148.8 126.7L142.6 126.7L136.4 126.7L130.2 126.7L124 126.7L117.8 126.7L111.6 126.7L105.4 126.7L99.2 126.7L93 126.7L86.8 126.7L80.6 126.7L74.4 126.7L68.2 126.7L62 126.7L55.8 126.7L49.6 126.7L43.4 126.7L37.2 126.7L31 126.7L24.8 126.7L18.6 126.7L12.4 126.7L6.2 126.7L0 126.7L0 119.2L0 111.8L0 104.3L0 96.9L0 89.4L0 82L0 74.5L0 67L0 59.6L0 52.1L0 44.7L0 37.2L0 29.8L0 24.6Z"/>
<path fill="#6e8ceb" fill-rule="evenodd" d="M179.8 52L179.8 52.1L179.8 59.6L179.8 67L179.8 74.5L179.8 82L179.8 89.4L179.8 96.9L179.8 104.3L179.8 111.8L179.8 119.2L179.8 126.7L173.6 126.7L167.4 126.7L161.2 126.7L155 126.7L148.8 126.7L142.6 126.7L136.4 126.7L130.2 126.7L124 126.7L117.8 126.7L111.6 126.7L105.4 126.7L99.2 126.7L93 126.7L86.8 126.7L80.6 126.7L74.4 126.7L68.2 126.7L62 126.7L55.8 126.7L49.6 126.7L43.4 126.7L37.2 126.7L31 126.7L24.8 126.7L18.6 126.7L12.4 126.7L6.2 126.7L0 126.7L0 119.2L0 111.8L0 104.3L0 96.9L0 89.4L0 82L0 81.2L6.2 79.2L12.4 75.8L14 74.5L18.6 71.1L22.8 67.1L24.8 65.5L31 60L31.5 59.6L37.2 56.3L43.4 54.3L49.6 55.3L55.8 56.7L62 57L68.2 56.8L74.4 56.5L80.6 56.1L86.8 55.9L93 56.4L99.2 57.1L105.4 57.6L111.6 57.7L117.8 57.4L124 58L130.2 59.1L134.1 59.6L136.4 59.9L142.6 59.8L144.5 59.6L148.8 59L155 57.8L161.2 56.5L167.4 55.1L173.6 53.6L179.3 52.1Z"/>
<path fill="#becdf5" fill-rule="evenodd" d="M86.8 66.5L93 65.9L99.2 65.4L105.4 65.1L111.6 64.7L117.8 64.4L124 64.5L130.2 65.6L136.4 67L136.5 67L142.6 68.3L148.8 69.1L155 69.8L161.2 70.3L167.4 70.7L173.6 71.1L179.8 71.4L179.8 74.5L179.8 82L179.8 89.4L179.8 96.9L179.8 104.3L179.8 111.8L179.8 119.2L179.8 126.7L173.6 126.7L167.4 126.7L161.2 126.7L155 126.7L148.8 126.7L142.6 126.7L136.4 126.7L130.2 126.7L124 126.7L117.8 126.7L111.6 126.7L105.4 126.7L99.2 126.7L93 126.7L86.8 126.7L80.6 126.7L74.4 126.7L68.2 126.7L62 126.7L55.8 126.7L49.6 126.7L43.4 126.7L37.2 126.7L31 126.7L24.8 126.7L18.6 126.7L12.4 126.7L6.2 126.7L0 126.7L0 121.5L4.6 119.2L6.2 118.5L12.4 115.3L18.3 111.7L18.6 111.6L24.8 107.1L27.7 104.3L31 100.8L34.4 96.9L37.2 93.6L40.9 89.4L43.4 87L49.6 82.9L51 82L55.8 78.3L62 75.4L63.7 74.5L68.2 72.3L74.4 70.2L80.6 68.2L84.8 67Z"/>
<path fill="#c8e1c8" fill-rule="evenodd" d="M99.2 74L105.4 72.6L111.6 72L117.8 71.4L124 71.4L130.2 73L134.7 74.5L136.4 75.2L142.6 77.7L148.8 80L154.5 82L155 82.1L161.2 84.5L167.4 86.7L173.6 88.8L175.3 89.4L179.8 91.1L179.8 96.9L179.8 104.3L179.8 111.8L179.8 119.2L179.8 126.7L173.6 126.7L167.4 126.7L161.2 126.7L155 126.7L148.8 126.7L142.6 126.7L136.4 126.7L130.2 126.7L124 126.7L117.8 126.7L111.6 126.7L105.4 126.7L99.2 126.7L93 126.7L86.8 126.7L80.6 126.7L74.4 126.7L68.2 126.7L62 126.7L55.8 126.7L49.6 126.7L43.4 126.7L37.2 126.7L34.9 126.7L37.2 123.8L40.5 119.2L43.4 115.4L45.8 111.8L49.6 106.5L51.1 104.3L55.8 98.4L57.1 96.9L62 92.5L65.5 89.4L68.2 87.5L74.4 83.3L76.6 82L80.6 80L86.8 77.6L93 75.5L97 74.5Z"/>
<path fill="#3c913c" fill-rule="evenodd" d="M99.2 81.7L105.4 79.5L111.6 78.8L117.8 78.8L124 79.7L129.8 82L130.2 82.2L136.4 85.9L142.1 89.4L142.6 89.8L148.8 94.4L152.6 96.9L155 98.9L161.2 103.6L162.3 104.3L167.4 108.5L171.7 111.8L173.6 113.4L179.8 118.4L179.8 119.2L179.8 126.7L173.6 126.7L167.4 126.7L161.2 126.7L155 126.7L148.8 126.7L142.6 126.7L136.4 126.7L130.2 126.7L124 126.7L117.8 126.7L111.6 126.7L105.4 126.7L99.2 126.7L93 126.7L86.8 126.7L80.6 126.7L74.4 126.7L68.2 126.7L62 126.7L60.5 126.7L62 123.4L63.7 119.2L67.3 111.8L68.2 110.3L71.5 104.3L74.4 100.6L77.1 96.9L80.6 93.6L85.4 89.4L86.8 88.6L93 84.5L98.7 82Z"/>
<path fill="#007300" fill-rule="evenodd" d="M99.2 89.1L105.4 87.2L111.6 86.4L117.8 87L123.5 89.4L124 89.9L130.2 96.2L130.9 96.9L136.1 104.3L136.4 105L140.4 111.8L142.6 116.3L144.2 119.2L147.6 126.7L142.6 126.7L136.4 126.7L130.2 126.7L124 126.7L117.8 126.7L111.6 126.7L105.4 126.7L99.2 126.7L93 126.7L86.8 126.7L85.4 126.7L85.9 119.2L86.8 112.7L86.9 111.8L88.9 104.3L91.6 96.8L93 95.1L98.6 89.4Z"/>
</g>
<path d="M19.4 109.7L17.9 108.9L15.9 107.4L14 106.7L13.2 104.9L14.5 102.9L14 100.9L14.8 98.4L15.1 96.4L14 94.4L15 91.9L15.9 90L17.1 88L17.9 86L16.7 84L17.4 81.8L19.9 80.5L22.9 81.5L24.9 79.5L26.9 77.2L29.9 76.5L32.9 76.9L34.4 75.4L36.9 73.9L39.4 72.4L41.4 70.7L40.9 69.4L38.4 68.7L34.9 70.4L31.9 71.9L29.4 71.4L28.4 68.9L28.9 66.4L30.9 64.9L31.4 62.9L29.9 60.9L29.9 59L31.9 57.8L35.9 57.5L38.4 57.5L39.9 57L43.9 53.5L46.3 51.5L48.8 52L50.8 50L53.8 47.5L60 47L62.9 45.7L65.9 44.4L68.4 42.9L68.9 39.9L70.9 37.4L73.4 35.4L76.3 34.9L78.8 33.1L80.8 33.4L81.6 35.9L81.3 38.9L82.5 38.4L84.5 38.9L86.4 40.4L87.7 43.4L87.9 45.9L89.4 45.4L90.9 43.4L93.1 44.9L95.4 45.4L96.7 44.4L96.1 42.4L97.4 40.9L98.9 38.4L99.4 35.4L100.9 32.4L102.9 29.4L105.4 26.4L108.4 23.9L111.4 21.4L113.9 18.5L114.9 16L116.3 15.5L117.8 17.5L118.8 16.5L120.8 14.5L123.8 13L126.8 11L130 8L132.9 6.8L135.9 6L138.4 4.5L140.9 4.5L143.9 4.5L146.9 4L149.9 4.5L152.9 4L155.9 4L158.9 3.5L161.8 3.5L164.8 2.8L166.8 4L168.8 5.5L170.8 7L170.3 9L167.8 9L164.8 9.4L161.8 8L158.9 7.5L155.9 9L152.9 8.8L150.9 9.9L150.4 12.4L147.9 14.4L145.4 16.4L143.4 18.9L140.9 20.9L138.4 22.4L137.1 24.4L138.1 26.9L137.4 29.4L136.4 31.9L138.4 33.4L140.9 34.4L142.1 36.4L142.9 39L144.4 41.4L142.9 44.4L142.4 46.9L143.4 49.4L142.4 51.9L141.4 54.4L140.4 56.9L138.9 58.9L138.4 61.9L138.9 64L138.4 66.5L136.9 68.5L134.4 69.5L131.4 71L128.9 72.5L126.9 72.2L124.4 71.8L121.5 72.5L119 74L117.5 75.9L117.8 77.9L119.5 79.4L121.5 80.4L121 82.4L121.5 84.9L123 86.4L123.9 88.4L123.4 90.9L122.5 93.4L120 95.9L117 98.4L114.5 100.4L112.5 100.9L110.3 100.1L108.3 98.4L106.3 100.1L104.3 98.4L102.3 97.1L99.8 97.4L97.4 99.1L94.9 98.7L92.4 98.1L90.4 95.9L88.9 93.4L86.4 91.4L82.9 90.4L78.9 90L75.4 88.5L71.9 88L69.4 87L67.5 89.2L65 87.5L62.5 88L60 91.9L57 94.4L53.8 96.9L51.3 98.9L48.8 100.4L45.8 101.4L42.9 101.4L41.4 100.4L39.9 98.9L37.9 97.4L36.9 95.4L37.7 93.4L36.9 91.4L34.9 90.4L32.9 91.4L30.9 92.9L28.9 94.7L26.9 96.4L25.7 98.1L25.4 99.9L24.4 101.4L22.7 102.9L21.7 104.9L22.1 106.7L20.9 108.4Z" fill="none" stroke="#1c1c1c" stroke-width="0.85" stroke-linejoin="round"/>
<rect x="0" y="0" width="173.6" height="119.2" fill="none" stroke="#383838" stroke-width="1.25"/>
</g>
<g transform="translate(36.1 323.6)">
<g clip-path="url(#m1)">
<rect x="0" y="0" width="173.6" height="119.2" fill="#c8e1c8"/>
<path fill="#3c913c" fill-rule="evenodd" d="M179.8 5.6L179.8 7.5L179.8 14.9L179.8 22.4L179.8 29.8L179.8 37.2L179.8 44.7L179.8 52.1L179.8 59.6L179.8 67L179.8 74.5L179.8 82L179.8 89.4L179.8 96.9L179.8 104.3L179.8 111.8L179.8 119.2L179.8 126.7L173.6 126.7L167.4 126.7L161.2 126.7L155 126.7L148.8 126.7L142.6 126.7L136.4 126.7L130.2 126.7L124 126.7L117.8 126.7L111.6 126.7L105.4 126.7L99.2 126.7L93 126.7L86.8 126.7L80.6 126.7L74.4 126.7L68.2 126.7L62 126.7L55.8 126.7L49.6 126.7L43.4 126.7L37.2 126.7L31 126.7L24.8 126.7L18.6 126.7L12.4 126.7L6.2 126.7L0 126.7L0 119.2L0 111.8L0 104.3L0 96.9L0 89.4L0 82L0 74.5L0 67.2L0.3 67L6.2 63.5L12 59.6L12.4 59.4L18.6 55.1L22.9 52.2L24.8 51L31 47.4L36.9 44.7L37.2 44.6L43.4 42.4L49.6 41.5L55.8 41.6L62 41.4L68.2 40.2L74.4 39.5L80.6 42.9L83.7 44.7L86.8 45.8L93 45.3L94.8 44.7L99.2 43L105.4 37.7L105.7 37.2L108.7 29.8L111.6 26.7L117.8 24.1L120.2 22.4L124 19.1L130.2 16.6L131.3 14.9L136.4 8.1L142.6 8.5L148.8 12.9L155 14.8L161.2 13.8L167.4 11.3L173.6 8.5L175.8 7.5ZM128.9 29.8L130.2 33.5L135.1 37.2L136.4 38L142.6 37.5L143.1 37.2L148.8 30.3L149.2 29.8L148.8 26.5L142.6 23.3L136.4 24.7L130.2 27.8Z"/>
<path fill="#007300" fill-rule="evenodd" d="M136.4 12.6L139 14.9L136.4 18.1L134.7 14.9ZM130.2 21.8L131 22.4L130.2 22.9L127.7 22.4ZM117.8 27.4L124 24L125.8 29.8L127 37.2L130.2 40.8L135.9 44.7L136.4 45L142.6 47.1L148.8 45.9L152.4 44.7L155 43.3L161.2 39.9L166.6 37.2L167.4 36.7L173.6 33.1L179.8 30.2L179.8 37.2L179.8 44.7L179.8 52.1L179.8 59.6L179.8 67L179.8 74.5L179.8 82L179.8 89.4L179.8 96.9L179.8 104.3L179.8 111.8L179.8 119.2L179.8 126.7L173.6 126.7L167.4 126.7L161.2 126.7L155 126.7L148.8 126.7L142.6 126.7L136.4 126.7L130.2 126.7L124 126.7L117.8 126.7L111.6 126.7L105.4 126.7L99.2 126.7L93 126.7L86.8 126.7L80.6 126.7L74.4 126.7L68.2 126.7L62 126.7L55.8 126.7L49.6 126.7L43.4 126.7L37.2 126.7L31 126.7L24.8 126.7L18.6 126.7L12.4 126.7L6.2 126.7L0 126.7L0 119.2L0 111.8L0 104.3L0 96.9L0 90.3L1.3 89.4L6.2 86.1L11.5 82L12.4 81.2L18.4 74.5L18.6 74.3L23.6 67L24.8 65.9L30.3 59.6L31 59L37.2 53.8L39.2 52.1L43.4 49.6L49.6 47.7L55.8 48.5L62 48.7L68.2 48L74.4 44.7L74.4 44.7L74.4 44.7L80.6 48L86.8 50.6L93 50.1L99.2 47.8L104.2 44.7L105.4 43.7L109.2 37.2L111.6 32.2L113.6 29.8Z"/>
<path fill="#00820a" fill-rule="evenodd" d="M117.8 36.6L118.1 37.2L124 42.4L126.3 44.7L130.2 45.4L136.4 51L138.8 52.2L142.6 53.3L148.8 53L154.9 52.1L155 52.1L161.2 50.8L167.4 49.3L173.6 47.8L179.8 46.3L179.8 52.1L179.8 59.6L179.8 67L179.8 74.5L179.8 82L179.8 89.4L179.8 96.9L179.8 104.3L179.8 111.8L179.8 119.2L179.8 126.7L173.6 126.7L167.4 126.7L161.2 126.7L155 126.7L148.8 126.7L142.6 126.7L136.4 126.7L130.2 126.7L124 126.7L117.8 126.7L111.6 126.7L105.4 126.7L99.2 126.7L93 126.7L86.8 126.7L80.6 126.7L74.4 126.7L68.2 126.7L62 126.7L55.8 126.7L49.6 126.7L43.4 126.7L37.2 126.7L31 126.7L24.8 126.7L18.6 126.7L12.4 126.7L6.2 126.7L0 126.7L0 119.2L0 112.7L1.1 111.8L6.2 107.6L9.8 104.3L12.4 102.1L18.2 96.9L18.6 96.5L24.8 89.8L25 89.4L28.8 82L30.1 74.5L31 72.8L33.4 67L37.2 62.4L39.3 59.6L43.4 55.8L49.6 52.3L55.8 52.9L62 53.1L68.2 54.4L74.4 52.3L80.6 52.3L86.8 54.4L93 54.1L99.2 52.2L99.3 52.1L105.4 47.3L108.9 44.7L111.6 39.6L117.3 37.2Z"/>
<path fill="#0f871e" fill-rule="evenodd" d="M117.8 42.8L119.6 44.7L124 46.4L130.2 47.3L134.9 52.1L136.4 54.5L142.6 57.1L148.8 58.1L155 58.5L161.2 58.8L167.4 58.8L173.6 58.7L179.8 58.6L179.8 59.6L179.8 67L179.8 74.5L179.8 82L179.8 89.4L179.8 96.9L179.8 104.3L179.8 111.8L179.8 119.2L179.8 126.7L173.6 126.7L167.4 126.7L161.2 126.7L155 126.7L148.8 126.7L142.6 126.7L136.4 126.7L130.2 126.7L124 126.7L117.8 126.7L111.6 126.7L105.4 126.7L99.2 126.7L93 126.7L86.8 126.7L80.6 126.7L74.4 126.7L68.2 126.7L62 126.7L55.8 126.7L49.6 126.7L43.4 126.7L37.2 126.7L31 126.7L24.8 126.7L18.6 126.7L12.4 126.7L11.3 126.7L12.4 125.4L17.1 119.2L18.6 117.3L22.3 111.8L24.8 108.3L26.9 104.3L30.8 96.9L31 96.5L33.5 89.4L35.5 82L35.6 74.5L37.2 71.5L39 67L43.4 61.3L44.4 59.6L49.6 54.8L55.8 55L62 55.2L68.2 58.7L74.4 56.5L80.6 54.5L86.8 57.8L93 57.3L99.2 55.2L103.2 52.1L105.4 50.4L111.6 45.5L114.8 44.7Z"/>
<path fill="#2d8c55" fill-rule="evenodd" d="M111.6 47.7L117.8 46.2L124 48.6L130.2 49.3L133 52.1L136.4 57.5L140.6 59.6L142.6 61L148.8 63.1L155 64.7L161.2 66.1L165.9 67L167.4 67.4L173.6 68.7L179.8 69.9L179.8 74.5L179.8 82L179.8 89.4L179.8 96.9L179.8 104.3L179.8 111.8L179.8 119.2L179.8 126.7L173.6 126.7L167.4 126.7L161.2 126.7L155 126.7L148.8 126.7L142.6 126.7L136.4 126.7L130.2 126.7L124 126.7L117.8 126.7L111.6 126.7L105.4 126.7L99.2 126.7L93 126.7L86.8 126.7L80.6 126.7L74.4 126.7L68.2 126.7L62 126.7L55.8 126.7L49.6 126.7L43.4 126.7L37.2 126.7L31.4 126.7L34.5 119.2L36.9 111.8L37.2 110.5L38.4 104.3L39 96.9L39.4 89.4L39.5 82L39.5 74.5L42.7 67L43.4 66.2L47.1 59.6L49.6 57.3L55.8 57L62 57.3L65.6 59.6L68.2 62.3L74.4 60.4L75.5 59.6L80.6 56.8L85.1 59.6L86.8 61.5L93 60.8L95.4 59.6L99.2 58.2L105.4 53.6L106.5 52.1Z"/>
<path fill="#5aaa46" fill-rule="evenodd" d="M111.6 50L117.8 48.3L124 50.7L130.2 51.3L131 52.1L135.4 59.6L136.4 60.7L142.6 65L147.1 67L148.8 68.2L155 71.2L161.2 73.9L162.9 74.5L167.4 76.7L173.6 79.4L179.8 81.9L179.8 82L179.8 89.4L179.8 96.9L179.8 104.3L179.8 111.8L179.8 119.2L179.8 126.7L173.6 126.7L167.4 126.7L161.2 126.7L155 126.7L148.8 126.7L142.6 126.7L136.4 126.7L130.2 126.7L124 126.7L117.8 126.7L111.6 126.7L105.4 126.7L99.2 126.7L93 126.7L86.8 126.7L80.6 126.7L74.4 126.7L68.2 126.7L62 126.7L55.8 126.7L49.9 126.6L51.9 119.2L53.5 111.8L54.3 104.3L49.6 97.7L49.3 96.9L45.4 89.4L43.4 84.6L42.9 82L42.9 74.5L43.4 73.4L45.3 67L49.6 60L51.1 59.6L55.8 59L62 59.4L62.4 59.6L68.2 65.6L74.4 63.3L79.7 59.6L80.6 59.1L81.4 59.6L86.8 65.4L93 64.9L99.2 61.2L101.9 59.6L105.4 57.2L109.1 52.1ZM54.5 82L55.8 87.6L56.4 89.4L60.2 96.8L62 97.7L63.1 96.9L68.2 94.9L71 89.4L69.1 82L68.2 81.3L62 78.9L55.8 81Z"/>
<path fill="#96d732" fill-rule="evenodd" d="M117.8 50.5L122 52.2L124 53.2L130.2 56.5L131.6 59.6L136.4 64.8L139.7 67L142.6 70L148.8 74.3L149.1 74.5L155 79.1L159.5 82L161.2 83.4L167.4 88L169.6 89.4L173.6 92.7L179.3 96.9L179.8 97.3L179.8 104.3L179.8 111.8L179.8 119.2L179.8 126.7L173.6 126.7L167.4 126.7L161.2 126.7L155 126.7L148.8 126.7L142.6 126.7L136.4 126.7L130.2 126.7L124 126.7L117.8 126.7L111.6 126.7L105.4 126.7L99.2 126.7L93 126.7L86.8 126.7L80.6 126.7L74.4 126.7L69.6 126.7L71.5 119.2L73.9 111.8L74.4 110.7L76.4 104.3L77.7 96.9L77.3 89.4L74.4 83.7L73.6 82L68.2 78.3L62 75L55.8 75.7L49.6 78.3L47.6 74.5L47.7 67L49.6 63.9L55.8 62.2L62 63.2L65.9 67L68.2 69.3L72.2 67L74.4 66.2L80.6 62L85.1 67L86.8 68.3L93 68.2L95.1 67L99.2 64.2L105.4 60.8L106.7 59.6L111.6 52.4L111.9 52.1Z"/>
<path fill="#cddc28" fill-rule="evenodd" d="M111.6 58.4L117.8 53.4L124 56.4L127.8 59.6L130.2 62.5L134.5 67L136.4 69.8L141.1 74.5L142.6 76.5L147.9 82L148.8 83.2L154.5 89.4L155 90.2L160.6 96.9L161.2 97.9L166.1 104.3L167.4 106.4L171.3 111.8L173.6 115.7L176.1 119.2L179.8 125.7L179.8 126.7L173.6 126.7L167.4 126.7L161.2 126.7L155 126.7L148.8 126.7L142.6 126.7L136.4 126.7L130.2 126.7L124 126.7L117.8 126.7L111.6 126.7L105.4 126.7L99.2 126.7L93 126.7L87.5 126.7L87.7 119.2L88.2 111.8L88.6 104.3L87.8 96.9L86.8 96L83.1 89.4L80.6 86.7L77.9 82L74.4 79.3L68.2 75.2L66.8 74.5L68.2 73.5L74.4 69.4L77.7 67L80.6 65.1L82.3 67.1L86.8 70.3L93 70.5L99.2 67.1L99.5 67L105.4 64.7L110.8 59.6ZM55.8 65.8L61.3 67L55.8 69.3L52 67Z"/>
<path fill="#ffdc1e" fill-rule="evenodd" d="M117.8 58.1L123.9 59.6L124 59.6L130 67L130.2 67.4L134.7 74.5L136.4 77.7L139.4 82L142.6 87.9L143.6 89.4L147 96.9L148.8 102.4L149.6 104.3L151.3 111.8L152.1 119.2L151.9 126.7L148.8 126.7L142.6 126.7L136.4 126.7L130.2 126.7L124 126.7L117.8 126.7L111.6 126.7L106.2 126.7L105.4 125.2L103.1 119.2L100.9 111.8L99.6 104.3L99.3 96.9L99.2 96.4L94 89.4L93 89L86.8 87L82.3 82L80.6 79.9L74.4 76.2L71.8 74.5L74.4 72.7L80.6 69.2L86.8 72.4L93 72.8L99.2 70.7L105.4 68.8L107.9 67L111.6 63.9L116 59.6Z"/>
<path fill="#ffb919" fill-rule="evenodd" d="M117.8 65.9L124 65.4L125.3 67.1L128.1 74.5L130.2 79L131.5 82L133.9 89.4L134.8 96.9L133.3 104.3L130.2 109.4L125.4 111.8L124 112.3L121.5 111.8L117.8 111.2L111.6 106.7L110.1 104.3L106.1 96.9L105.4 95.3L103.3 89.4L99.2 84.6L93 83.6L87.6 81.9L86.8 77.9L84.7 74.5L86.8 74.4L87.5 74.5L93 78L98.3 74.5L99.2 74.3L105.4 73.4L111.6 71L116.4 67Z"/>
<path fill="#ffa014" fill-rule="evenodd" d="M117.8 80.5L119.2 82L123 89.4L117.8 95.6L111.6 92.3L110.2 89.4L111.6 83.5L114.3 82Z"/>
</g>
<path d="M19.4 109.7L17.9 108.9L15.9 107.4L14 106.7L13.2 104.9L14.5 102.9L14 100.9L14.8 98.4L15.1 96.4L14 94.4L15 91.9L15.9 90L17.1 88L17.9 86L16.7 84L17.4 81.8L19.9 80.5L22.9 81.5L24.9 79.5L26.9 77.2L29.9 76.5L32.9 76.9L34.4 75.4L36.9 73.9L39.4 72.4L41.4 70.7L40.9 69.4L38.4 68.7L34.9 70.4L31.9 71.9L29.4 71.4L28.4 68.9L28.9 66.4L30.9 64.9L31.4 62.9L29.9 60.9L29.9 59L31.9 57.8L35.9 57.5L38.4 57.5L39.9 57L43.9 53.5L46.3 51.5L48.8 52L50.8 50L53.8 47.5L60 47L62.9 45.7L65.9 44.4L68.4 42.9L68.9 39.9L70.9 37.4L73.4 35.4L76.3 34.9L78.8 33.1L80.8 33.4L81.6 35.9L81.3 38.9L82.5 38.4L84.5 38.9L86.4 40.4L87.7 43.4L87.9 45.9L89.4 45.4L90.9 43.4L93.1 44.9L95.4 45.4L96.7 44.4L96.1 42.4L97.4 40.9L98.9 38.4L99.4 35.4L100.9 32.4L102.9 29.4L105.4 26.4L108.4 23.9L111.4 21.4L113.9 18.5L114.9 16L116.3 15.5L117.8 17.5L118.8 16.5L120.8 14.5L123.8 13L126.8 11L130 8L132.9 6.8L135.9 6L138.4 4.5L140.9 4.5L143.9 4.5L146.9 4L149.9 4.5L152.9 4L155.9 4L158.9 3.5L161.8 3.5L164.8 2.8L166.8 4L168.8 5.5L170.8 7L170.3 9L167.8 9L164.8 9.4L161.8 8L158.9 7.5L155.9 9L152.9 8.8L150.9 9.9L150.4 12.4L147.9 14.4L145.4 16.4L143.4 18.9L140.9 20.9L138.4 22.4L137.1 24.4L138.1 26.9L137.4 29.4L136.4 31.9L138.4 33.4L140.9 34.4L142.1 36.4L142.9 39L144.4 41.4L142.9 44.4L142.4 46.9L143.4 49.4L142.4 51.9L141.4 54.4L140.4 56.9L138.9 58.9L138.4 61.9L138.9 64L138.4 66.5L136.9 68.5L134.4 69.5L131.4 71L128.9 72.5L126.9 72.2L124.4 71.8L121.5 72.5L119 74L117.5 75.9L117.8 77.9L119.5 79.4L121.5 80.4L121 82.4L121.5 84.9L123 86.4L123.9 88.4L123.4 90.9L122.5 93.4L120 95.9L117 98.4L114.5 100.4L112.5 100.9L110.3 100.1L108.3 98.4L106.3 100.1L104.3 98.4L102.3 97.1L99.8 97.4L97.4 99.1L94.9 98.7L92.4 98.1L90.4 95.9L88.9 93.4L86.4 91.4L82.9 90.4L78.9 90L75.4 88.5L71.9 88L69.4 87L67.5 89.2L65 87.5L62.5 88L60 91.9L57 94.4L53.8 96.9L51.3 98.9L48.8 100.4L45.8 101.4L42.9 101.4L41.4 100.4L39.9 98.9L37.9 97.4L36.9 95.4L37.7 93.4L36.9 91.4L34.9 90.4L32.9 91.4L30.9 92.9L28.9 94.7L26.9 96.4L25.7 98.1L25.4 99.9L24.4 101.4L22.7 102.9L21.7 104.9L22.1 106.7L20.9 108.4Z" fill="none" stroke="#1c1c1c" stroke-width="0.85" stroke-linejoin="round"/>
<rect x="0" y="0" width="173.6" height="119.2" fill="none" stroke="#383838" stroke-width="1.25"/>
<line x1="-3" y1="0" x2="0" y2="0" stroke="#383838" stroke-width="1"/>
<text class="a" x="-20.3" y="3.5" textLength="15.3" lengthAdjust="spacingAndGlyphs">37N</text>
<line x1="-3" y1="29.8" x2="0" y2="29.8" stroke="#383838" stroke-width="1"/>
<text class="a" x="-20.3" y="33.3" textLength="15.3" lengthAdjust="spacingAndGlyphs">36N</text>
<line x1="-3" y1="59.6" x2="0" y2="59.6" stroke="#383838" stroke-width="1"/>
<text class="a" x="-20.3" y="63.1" textLength="15.3" lengthAdjust="spacingAndGlyphs">35N</text>
<line x1="-3" y1="89.4" x2="0" y2="89.4" stroke="#383838" stroke-width="1"/>
<text class="a" x="-20.3" y="92.9" textLength="15.3" lengthAdjust="spacingAndGlyphs">34N</text>
<line x1="-3" y1="119.2" x2="0" y2="119.2" stroke="#383838" stroke-width="1"/>
<text class="a" x="-20.3" y="122.7" textLength="15.3" lengthAdjust="spacingAndGlyphs">33N</text>
<line x1="0" y1="0" x2="0" y2="2.4" stroke="#383838" stroke-width="0.8" transform="translate(0 119.2)"/>
<text class="a" x="-6.8" y="130.2" textLength="13.6" lengthAdjust="spacingAndGlyphs">67E</text>
<line x1="24.8" y1="0" x2="24.8" y2="2.4" stroke="#383838" stroke-width="0.8" transform="translate(0 119.2)"/>
<text class="a" x="18" y="130.2" textLength="13.6" lengthAdjust="spacingAndGlyphs">68E</text>
<line x1="49.6" y1="0" x2="49.6" y2="2.4" stroke="#383838" stroke-width="0.8" transform="translate(0 119.2)"/>
<text class="a" x="42.8" y="130.2" textLength="13.6" lengthAdjust="spacingAndGlyphs">69E</text>
<line x1="74.4" y1="0" x2="74.4" y2="2.4" stroke="#383838" stroke-width="0.8" transform="translate(0 119.2)"/>
<text class="a" x="67.6" y="130.2" textLength="13.6" lengthAdjust="spacingAndGlyphs">70E</text>
<line x1="99.2" y1="0" x2="99.2" y2="2.4" stroke="#383838" stroke-width="0.8" transform="translate(0 119.2)"/>
<text class="a" x="92.4" y="130.2" textLength="13.6" lengthAdjust="spacingAndGlyphs">71E</text>
<line x1="124" y1="0" x2="124" y2="2.4" stroke="#383838" stroke-width="0.8" transform="translate(0 119.2)"/>
<text class="a" x="117.2" y="130.2" textLength="13.6" lengthAdjust="spacingAndGlyphs">72E</text>
<line x1="148.8" y1="0" x2="148.8" y2="2.4" stroke="#383838" stroke-width="0.8" transform="translate(0 119.2)"/>
<text class="a" x="142" y="130.2" textLength="13.6" lengthAdjust="spacingAndGlyphs">73E</text>
<line x1="173.6" y1="0" x2="173.6" y2="2.4" stroke="#383838" stroke-width="0.8" transform="translate(0 119.2)"/>
<text class="a" x="166.8" y="130.2" textLength="13.6" lengthAdjust="spacingAndGlyphs">74E</text>
</g>
<g transform="translate(226.9 323.6)">
<g clip-path="url(#m1)">
<rect x="0" y="0" width="173.6" height="119.2" fill="#2d8c55"/>
<path fill="#5aaa46" fill-rule="evenodd" d="M136.4 0L142.6 0L148.8 0L155 0L161.2 0L167.4 0L173.6 0L179.8 0L179.8 7.5L179.8 14.9L179.8 22.4L179.8 29.8L179.8 37.2L179.8 44.7L179.8 52.1L179.8 59.6L179.8 67L179.8 74.5L179.8 82L179.8 89.4L179.8 96.9L179.8 104.3L179.8 111.8L179.8 119.2L179.8 126.7L173.6 126.7L167.4 126.7L161.2 126.7L155 126.7L148.8 126.7L142.6 126.7L136.4 126.7L130.2 126.7L124 126.7L117.8 126.7L111.6 126.7L105.4 126.7L99.2 126.7L93 126.7L86.8 126.7L80.6 126.7L74.4 126.7L68.2 126.7L62 126.7L55.8 126.7L49.6 126.7L43.4 126.7L37.2 126.7L31 126.7L24.8 126.7L18.6 126.7L12.4 126.7L6.2 126.7L0 126.7L0 119.2L0 111.8L0 104.3L0 96.9L0 89.4L0 82L0 74.5L0 67L0 59.6L0 52.1L0 44.7L0 37.2L0 30.6L3.1 29.8L6.2 29.1L12.4 27.7L18.6 26.4L24.8 25.5L31 25L37.2 25.1L43.4 25.7L49.6 27.1L55.8 29.2L57 29.8L62 31.8L68.2 34.9L73.4 37.2L74.4 37.6L80.6 40.3L86.8 41.5L93 41.1L99.2 39.8L104.6 37.2L105.4 36.6L111.6 30.2L112.2 29.8L117.8 25.4L120.1 22.4L124 18.5L130.2 15.8L130.6 14.9L132.1 7.5L134 0ZM128.3 29.8L128.5 37.2L130.2 40.1L135 44.7L136.4 45.7L142.6 44.8L142.8 44.7L145.3 37.2L142.6 33.4L140.1 29.8L136.4 28L130.2 26.9Z"/>
<path fill="#96d732" fill-rule="evenodd" d="M136.4 6.9L142.6 0.4L143.4 0L148.8 0L155 0L161.2 0L167.4 0L173.6 0L179.8 0L179.8 7.5L179.8 14.9L179.8 22.4L179.8 29.8L179.8 37.2L179.8 44.7L179.8 52.1L179.8 59.6L179.8 67L179.8 74.5L179.8 82L179.8 89.4L179.8 96.9L179.8 104.3L179.8 111.8L179.8 119.2L179.8 126.7L173.6 126.7L167.4 126.7L161.2 126.7L155 126.7L148.8 126.7L142.6 126.7L136.4 126.7L130.2 126.7L124 126.7L117.8 126.7L111.6 126.7L105.4 126.7L99.2 126.7L93 126.7L86.8 126.7L80.6 126.7L74.4 126.7L68.2 126.7L62 126.7L55.8 126.7L49.6 126.7L43.4 126.7L37.2 126.7L31 126.7L24.8 126.7L18.6 126.7L12.4 126.7L6.2 126.7L0 126.7L0 119.2L0 111.8L0 104.3L0 96.9L0 89.4L0 82L0 74.5L0 67L0 62.6L5.6 59.6L6.2 59.2L12.4 54.2L14.1 52.1L18.6 48.4L22.8 44.7L24.8 43.5L31 40.3L37.2 38.3L43.4 37.7L49.6 38L55.8 39.3L62 42.1L65.6 44.7L68.2 47.6L74.4 51.5L80.6 49.2L86.8 49.1L93 46.8L99.2 45.2L99.7 44.7L105.4 40.9L109.4 37.2L111.6 34.8L117.8 30.2L118.9 29.8L123.8 22.4L124 22.2L130.2 21.6L133 14.9L136.2 7.5ZM125.6 29.8L126.3 37.2L130.2 43.8L131.1 44.7L136.4 48.3L142.6 49.9L148.8 47.1L152.1 44.7L154.8 37.2L151.5 29.8L148.8 28.2L142.6 25.8L136.4 23.7L130.2 22.9Z"/>
<path fill="#cddc28" fill-rule="evenodd" d="M136.4 12.8L142.6 9.8L148.8 12.2L151.6 14.9L148.8 16.4L142.6 19.2L136.4 17.5L135.5 14.9ZM179.8 19.4L179.8 22.4L179.8 29.8L179.8 37.2L179.8 44.7L179.8 52.1L179.8 59.6L179.8 67L179.8 74.5L179.8 82L179.8 89.4L179.8 96.9L179.8 104.3L179.8 111.8L179.8 119.2L179.8 126.7L173.6 126.7L167.4 126.7L161.2 126.7L155 126.7L148.8 126.7L142.6 126.7L136.4 126.7L130.2 126.7L124 126.7L117.8 126.7L111.6 126.7L105.4 126.7L99.2 126.7L93 126.7L86.8 126.7L80.6 126.7L74.4 126.7L68.2 126.7L62 126.7L55.8 126.7L49.6 126.7L43.4 126.7L37.2 126.7L31 126.7L24.8 126.7L18.6 126.7L12.4 126.7L6.2 126.7L0 126.7L0 119.2L0 111.8L0 104.3L0 96.9L0 90.9L3.4 89.4L6.2 88.2L12.4 85.4L18.6 82.6L24.8 82.3L31 85.5L34.6 82L32.3 74.5L31 70.6L28.4 67L28.9 59.6L31 56L33.5 52.1L37.2 49.3L43.4 46.5L49.6 45.9L55.8 46.6L62 48.8L64.8 52.1L68.2 55.3L74.4 55.8L80.6 53.8L86.8 54.4L91.2 52.1L93 51.2L99.2 50.6L105.4 44.7L105.5 44.7L111.6 39.3L113.5 37.2L117.8 33.6L124 36.5L124.1 37.2L127.9 44.7L130.2 46.8L136.4 51L139.1 52.1L142.6 54.2L148.8 53.6L154 52.1L155 51.6L161.2 47.4L164.9 44.7L167.4 40.7L170.3 37.2L173.6 29.8L173.6 29.7L177.4 22.4Z"/>
<path fill="#ffdc1e" fill-rule="evenodd" d="M117.8 36.9L118.4 37.2L124 43.1L124.8 44.7L130.2 49.5L134.1 52.1L136.4 54.4L142.6 57.8L148.8 58.7L155 58.6L161.2 57.5L167.4 55.7L173.6 53.5L177 52.2L179.8 50.6L179.8 52.1L179.8 59.6L179.8 67L179.8 74.5L179.8 82L179.8 89.4L179.8 96.9L179.8 104.3L179.8 111.8L179.8 119.2L179.8 126.7L173.6 126.7L167.4 126.7L161.2 126.7L155 126.7L148.8 126.7L142.6 126.7L136.4 126.7L130.2 126.7L124 126.7L117.8 126.7L111.6 126.7L105.4 126.7L99.2 126.7L93 126.7L86.8 126.7L80.6 126.7L74.4 126.7L68.2 126.7L62 126.7L55.8 126.7L49.6 126.7L43.4 126.7L37.2 126.7L31 126.7L24.8 126.7L18.6 126.7L12.4 126.7L6.2 126.7L0 126.7L0 119.2L0 114.5L3.8 111.8L6.2 110.2L12.4 105.9L14.4 104.3L18.6 101.5L24.8 96.9L24.8 96.9L31 91L32.1 89.4L37.2 84.9L38.5 82L37.6 74.5L37.2 72L35.9 67L37.2 62.3L38 59.6L43.4 54.1L49.6 52.2L55.8 52.4L62 53.6L68 59.6L68.2 59.8L73.4 59.6L74.4 59.6L80.6 56.6L86.8 58.6L93 55.8L99.2 55.2L101.2 52.1L105.4 47.8L110.4 44.7L111.6 43.6L117.4 37.2Z"/>
<path fill="#ffb919" fill-rule="evenodd" d="M105.4 50.8L111.6 47.1L117.8 46.6L124 47.8L129.9 52.1L130.2 52.4L136.4 58.5L138.6 59.6L142.6 62L148.8 64L155 65.1L161.2 65.7L167.4 65.8L173.6 65.6L179.8 65.2L179.8 67L179.8 74.5L179.8 82L179.8 89.4L179.8 96.9L179.8 104.3L179.8 111.8L179.8 119.2L179.8 126.7L173.6 126.7L167.4 126.7L161.2 126.7L155 126.7L148.8 126.7L142.6 126.7L136.4 126.7L130.2 126.7L124 126.7L117.8 126.7L111.6 126.7L105.4 126.7L99.2 126.7L93 126.7L86.8 126.7L80.6 126.7L74.4 126.7L68.2 126.7L62 126.7L55.8 126.7L49.6 126.7L43.4 126.7L37.2 126.7L31 126.7L24.8 126.7L18.6 126.7L15.1 126.7L18.6 122.7L21.2 119.2L24.8 114.7L26.6 111.8L31 105L31.3 104.3L34.8 96.8L37.2 93.2L38.4 89.4L41.3 82L41.2 74.5L40.8 67L43.4 61.9L45.1 59.6L49.6 56.6L55.8 56.4L62 57.1L64.5 59.6L68.2 62.3L74.4 61.7L80.1 59.6L80.6 59.4L81.3 59.6L86.8 61L93 60.1L98.3 59.6L99.2 59.4L104.1 52.1ZM61.8 89.4L62 89.6L62.3 89.4L62 87.1Z"/>
<path fill="#ffa014" fill-rule="evenodd" d="M111.6 50.3L117.8 50.6L124 52L124.3 52.1L130.2 57.7L132.2 59.6L136.4 63.1L142.6 66.8L143.4 67L148.8 69.9L155 72.2L161.2 74.1L163.1 74.5L167.4 75.8L173.6 77.2L179.8 78.5L179.8 82L179.8 89.4L179.8 96.9L179.8 104.3L179.8 111.8L179.8 119.2L179.8 126.7L173.6 126.7L167.4 126.7L161.2 126.7L155 126.7L148.8 126.7L142.6 126.7L136.4 126.7L130.2 126.7L124 126.7L117.8 126.7L111.6 126.7L105.4 126.7L99.2 126.7L93 126.7L86.8 126.7L80.6 126.7L74.4 126.7L68.2 126.7L62 126.7L55.8 126.7L49.6 126.7L43.4 126.7L37.2 126.7L36.5 126.7L37.2 124.9L39.4 119.2L41.6 111.8L42.4 104.3L42.1 96.8L42.3 89.4L43.4 85.3L44.6 82L45.4 74.5L45.8 67L49.6 62L55.8 60.6L62 61.3L68.2 64.8L74.4 63.8L80.6 62.1L86.8 62.9L93 62.2L99.2 61.7L105.1 59.6L105.4 59L108.4 52.1ZM55.5 82L55.8 83.9L56.5 89.4L62 96.1L68.2 92.7L69.5 89.4L68.2 85.3L67 82L62 78.3L55.8 81.7Z"/>
<path fill="#ff960f" fill-rule="evenodd" d="M111.6 54.8L117.8 54.9L124 56.9L126.8 59.6L130.2 63L135.2 67L136.4 68.3L142.6 72.9L145.5 74.5L148.8 77L155 80.6L157.7 82L161.2 84.2L167.4 87.5L171.5 89.4L173.6 90.7L179.8 93.8L179.8 96.9L179.8 104.3L179.8 111.8L179.8 119.2L179.8 126.7L173.6 126.7L167.4 126.7L161.2 126.7L155 126.7L148.8 126.7L142.6 126.7L136.4 126.7L130.2 126.7L124 126.7L117.8 126.7L111.6 126.7L105.4 126.7L99.2 126.7L93 126.7L86.8 126.7L80.6 126.7L74.4 126.7L68.2 126.7L62 126.7L57.8 126.7L60.7 119.2L62 116.9L64.9 111.8L68.2 108.4L70.6 104.3L74.1 96.9L73.9 89.4L71.2 82L68.2 77.2L62.6 74.5L68.2 68.4L69.1 67L74.4 65.8L80.6 64.9L86.8 64.8L93 64.3L99.2 63.8L105.4 62.6L108.8 59.6ZM55.8 65.8L61.5 67L61.4 74.5L55.8 76.6L50.9 74.5L53.1 67ZM49.6 83.4L50.7 89.4L49.6 92.2L48.4 89.4Z"/>
<path fill="#ff820a" fill-rule="evenodd" d="M117.8 59.3L118.6 59.6L124 62.3L128.9 67L130.2 68.8L136.1 74.5L136.4 74.9L142.6 80.9L144 82L148.8 86.8L152 89.4L155 92.8L159.6 96.8L161.2 98.7L167.1 104.3L167.4 104.7L173.6 111L174.5 111.8L179.8 117.4L179.8 119.2L179.8 126.7L173.6 126.7L167.4 126.7L161.2 126.7L155 126.7L148.8 126.7L142.6 126.7L136.4 126.7L130.2 126.7L124 126.7L117.8 126.7L111.6 126.7L105.4 126.7L99.2 126.7L93 126.7L86.8 126.7L80.6 126.7L79.4 126.7L80.6 121.2L81 119.2L82.7 111.8L84.2 104.3L84.6 96.9L80.6 89.8L80.5 89.4L75.6 82L74.4 79.9L71.5 74.5L74.4 70.5L80.6 68.1L83.9 67L86.8 66.7L93 66.4L99.2 65.9L105.4 65.8L111.6 61L116.4 59.6Z"/>
<path fill="#ff5a0a" fill-rule="evenodd" d="M117.8 66.9L118.3 67L124 69.6L127.6 74.5L130.2 77.3L134.2 82L136.4 85.3L139.7 89.4L142.6 94.8L144 96.9L147.6 104.3L148.8 107.8L150.5 111.8L152.9 119.2L154.7 126.7L148.8 126.7L142.6 126.7L136.4 126.7L130.2 126.7L124 126.7L117.8 126.7L111.6 126.7L105.4 126.7L99.9 126.7L99.2 123.8L98.4 119.2L97.4 111.8L97 104.3L97 96.9L95.9 89.4L93 87.5L86.8 84.7L83 82L80.6 78.4L78.8 74.5L80.6 73.4L86.8 70.9L93 69.6L99.2 69.1L105.4 69.9L111.6 67.6L116.7 67Z"/>
<path fill="#ff320a" fill-rule="evenodd" d="M93 73.1L99.2 73.2L105.3 74.5L105.4 74.7L111.6 75.7L117.8 77.3L124 81.8L124.1 82L129.1 89.4L130.2 94.4L130.9 96.9L130.2 103.2L130 104.3L124 111.1L117.8 111L111.6 106.6L110.3 104.3L106.7 96.9L105.4 91.4L105 89.4L102.1 82L99.2 79.4L93 78.8L89 74.5Z"/>
</g>
<path d="M19.4 109.7L17.9 108.9L15.9 107.4L14 106.7L13.2 104.9L14.5 102.9L14 100.9L14.8 98.4L15.1 96.4L14 94.4L15 91.9L15.9 90L17.1 88L17.9 86L16.7 84L17.4 81.8L19.9 80.5L22.9 81.5L24.9 79.5L26.9 77.2L29.9 76.5L32.9 76.9L34.4 75.4L36.9 73.9L39.4 72.4L41.4 70.7L40.9 69.4L38.4 68.7L34.9 70.4L31.9 71.9L29.4 71.4L28.4 68.9L28.9 66.4L30.9 64.9L31.4 62.9L29.9 60.9L29.9 59L31.9 57.8L35.9 57.5L38.4 57.5L39.9 57L43.9 53.5L46.3 51.5L48.8 52L50.8 50L53.8 47.5L60 47L62.9 45.7L65.9 44.4L68.4 42.9L68.9 39.9L70.9 37.4L73.4 35.4L76.3 34.9L78.8 33.1L80.8 33.4L81.6 35.9L81.3 38.9L82.5 38.4L84.5 38.9L86.4 40.4L87.7 43.4L87.9 45.9L89.4 45.4L90.9 43.4L93.1 44.9L95.4 45.4L96.7 44.4L96.1 42.4L97.4 40.9L98.9 38.4L99.4 35.4L100.9 32.4L102.9 29.4L105.4 26.4L108.4 23.9L111.4 21.4L113.9 18.5L114.9 16L116.3 15.5L117.8 17.5L118.8 16.5L120.8 14.5L123.8 13L126.8 11L130 8L132.9 6.8L135.9 6L138.4 4.5L140.9 4.5L143.9 4.5L146.9 4L149.9 4.5L152.9 4L155.9 4L158.9 3.5L161.8 3.5L164.8 2.8L166.8 4L168.8 5.5L170.8 7L170.3 9L167.8 9L164.8 9.4L161.8 8L158.9 7.5L155.9 9L152.9 8.8L150.9 9.9L150.4 12.4L147.9 14.4L145.4 16.4L143.4 18.9L140.9 20.9L138.4 22.4L137.1 24.4L138.1 26.9L137.4 29.4L136.4 31.9L138.4 33.4L140.9 34.4L142.1 36.4L142.9 39L144.4 41.4L142.9 44.4L142.4 46.9L143.4 49.4L142.4 51.9L141.4 54.4L140.4 56.9L138.9 58.9L138.4 61.9L138.9 64L138.4 66.5L136.9 68.5L134.4 69.5L131.4 71L128.9 72.5L126.9 72.2L124.4 71.8L121.5 72.5L119 74L117.5 75.9L117.8 77.9L119.5 79.4L121.5 80.4L121 82.4L121.5 84.9L123 86.4L123.9 88.4L123.4 90.9L122.5 93.4L120 95.9L117 98.4L114.5 100.4L112.5 100.9L110.3 100.1L108.3 98.4L106.3 100.1L104.3 98.4L102.3 97.1L99.8 97.4L97.4 99.1L94.9 98.7L92.4 98.1L90.4 95.9L88.9 93.4L86.4 91.4L82.9 90.4L78.9 90L75.4 88.5L71.9 88L69.4 87L67.5 89.2L65 87.5L62.5 88L60 91.9L57 94.4L53.8 96.9L51.3 98.9L48.8 100.4L45.8 101.4L42.9 101.4L41.4 100.4L39.9 98.9L37.9 97.4L36.9 95.4L37.7 93.4L36.9 91.4L34.9 90.4L32.9 91.4L30.9 92.9L28.9 94.7L26.9 96.4L25.7 98.1L25.4 99.9L24.4 101.4L22.7 102.9L21.7 104.9L22.1 106.7L20.9 108.4Z" fill="none" stroke="#1c1c1c" stroke-width="0.85" stroke-linejoin="round"/>
<rect x="0" y="0" width="173.6" height="119.2" fill="none" stroke="#383838" stroke-width="1.25"/>
<line x1="0" y1="0" x2="0" y2="2.4" stroke="#383838" stroke-width="0.8" transform="translate(0 119.2)"/>
<text class="a" x="-6.8" y="130.2" textLength="13.6" lengthAdjust="spacingAndGlyphs">67E</text>
<line x1="24.8" y1="0" x2="24.8" y2="2.4" stroke="#383838" stroke-width="0.8" transform="translate(0 119.2)"/>
<text class="a" x="18" y="130.2" textLength="13.6" lengthAdjust="spacingAndGlyphs">68E</text>
<line x1="49.6" y1="0" x2="49.6" y2="2.4" stroke="#383838" stroke-width="0.8" transform="translate(0 119.2)"/>
<text class="a" x="42.8" y="130.2" textLength="13.6" lengthAdjust="spacingAndGlyphs">69E</text>
<line x1="74.4" y1="0" x2="74.4" y2="2.4" stroke="#383838" stroke-width="0.8" transform="translate(0 119.2)"/>
<text class="a" x="67.6" y="130.2" textLength="13.6" lengthAdjust="spacingAndGlyphs">70E</text>
<line x1="99.2" y1="0" x2="99.2" y2="2.4" stroke="#383838" stroke-width="0.8" transform="translate(0 119.2)"/>
<text class="a" x="92.4" y="130.2" textLength="13.6" lengthAdjust="spacingAndGlyphs">71E</text>
<line x1="124" y1="0" x2="124" y2="2.4" stroke="#383838" stroke-width="0.8" transform="translate(0 119.2)"/>
<text class="a" x="117.2" y="130.2" textLength="13.6" lengthAdjust="spacingAndGlyphs">72E</text>
<line x1="148.8" y1="0" x2="148.8" y2="2.4" stroke="#383838" stroke-width="0.8" transform="translate(0 119.2)"/>
<text class="a" x="142" y="130.2" textLength="13.6" lengthAdjust="spacingAndGlyphs">73E</text>
<line x1="173.6" y1="0" x2="173.6" y2="2.4" stroke="#383838" stroke-width="0.8" transform="translate(0 119.2)"/>
<text class="a" x="166.8" y="130.2" textLength="13.6" lengthAdjust="spacingAndGlyphs">74E</text>
</g>
<g transform="translate(417.6 323.6)">
<g clip-path="url(#m1)">
<rect x="0" y="0" width="173.6" height="119.2" fill="#4471b4"/>
<path fill="#5078d7" fill-rule="evenodd" d="M173.6 2.9L177.6 0L179.8 0L179.8 7.5L179.8 14.9L179.8 22.4L179.8 29.8L179.8 37.2L179.8 44.7L179.8 52.1L179.8 59.6L179.8 67L179.8 74.5L179.8 82L179.8 89.4L179.8 96.9L179.8 104.3L179.8 111.8L179.8 119.2L179.8 126.7L173.6 126.7L167.4 126.7L161.2 126.7L155 126.7L148.8 126.7L142.6 126.7L136.4 126.7L130.2 126.7L124 126.7L117.8 126.7L111.6 126.7L105.4 126.7L99.2 126.7L93 126.7L86.8 126.7L80.6 126.7L74.4 126.7L68.2 126.7L62 126.7L55.8 126.7L49.6 126.7L43.4 126.7L37.2 126.7L31 126.7L24.8 126.7L18.6 126.7L12.4 126.7L6.2 126.7L0 126.7L0 119.2L0 111.8L0 104.3L0 96.9L0 89.4L0 82L0 75L1.3 74.5L6.2 72.6L12.4 69.9L18.4 67L18.6 67L24.8 62.7L28 59.6L31 56.5L33.9 52.1L37.2 49.1L43.2 44.7L43.4 44.6L49.6 42.5L55.8 42.4L62 44.1L63.3 44.7L68.2 46.8L74.4 48.3L80.6 47.9L86.8 48.6L93 48.1L99.2 46.9L105.4 45.1L106.4 44.7L111.6 41.2L114.7 37.2L117.8 32.1L120.3 29.8L121.7 22.4L124 19.5L130.2 17.7L133.8 14.9L136.4 12.7L142.6 13.5L146.6 14.9L142.6 18.2L136.9 22.4L136.4 22.4L130.2 26.7L128 29.8L128.6 37.2L128.9 44.7L130.2 45.9L136.4 46.6L142.6 45.1L143.6 44.7L148.8 38.3L150 37.2L152.8 29.8L152.6 22.4L155 17.6L156.7 14.9L161.2 12.1L167.4 7.5L167.4 7.5Z"/>
<path fill="#6e8ceb" fill-rule="evenodd" d="M173.6 27.4L179.8 23.1L179.8 29.8L179.8 37.2L179.8 44.7L179.8 52.1L179.8 59.6L179.8 67L179.8 74.5L179.8 82L179.8 89.4L179.8 96.9L179.8 104.3L179.8 111.8L179.8 119.2L179.8 126.7L173.6 126.7L167.4 126.7L161.2 126.7L155 126.7L148.8 126.7L142.6 126.7L136.4 126.7L130.2 126.7L124 126.7L117.8 126.7L111.6 126.7L105.4 126.7L99.2 126.7L93 126.7L86.8 126.7L80.6 126.7L74.4 126.7L68.2 126.7L62 126.7L55.8 126.7L49.6 126.7L43.4 126.7L37.2 126.7L31 126.7L24.8 126.7L18.6 126.7L12.4 126.7L6.2 126.7L0 126.7L0 119.2L0 111.8L0 104.3L0 96.9L0 95.6L6.2 92.3L11.2 89.4L12.4 88.7L18.6 84.5L22 81.9L24.8 80.2L31 75.7L31.6 74.5L37.2 67.4L37.5 67L39.8 59.6L43.4 53.4L44.3 52.1L49.6 48.6L55.8 47.7L62 49.1L66.6 52.2L68.2 53.3L74.4 53.4L80.6 52.3L86.8 53.5L93 52.9L94.5 52.2L99.2 50.2L105.4 47.1L111.3 44.7L111.6 44.5L117.2 37.2L117.8 36.3L124 30.9L126.4 37.2L127.2 44.7L130.2 47.3L136.4 48.2L142.6 48.1L148.8 46.1L152.1 44.7L155 42.2L161.2 37.8L162.1 37.2L167.4 32.3L170.9 29.8Z"/>
<path fill="#becdf5" fill-rule="evenodd" d="M124 36.8L124.2 37.2L125.5 44.7L130.2 48.8L136.4 49.7L142.6 51.2L148.8 50.6L155 49.1L161.2 47.1L167.4 44.8L167.8 44.7L173.6 42L179.8 39.4L179.8 44.7L179.8 52.1L179.8 59.6L179.8 67L179.8 74.5L179.8 82L179.8 89.4L179.8 96.9L179.8 104.3L179.8 111.8L179.8 119.2L179.8 126.7L173.6 126.7L167.4 126.7L161.2 126.7L155 126.7L148.8 126.7L142.6 126.7L136.4 126.7L130.2 126.7L124 126.7L117.8 126.7L111.6 126.7L105.4 126.7L99.2 126.7L93 126.7L86.8 126.7L80.6 126.7L74.4 126.7L68.2 126.7L62 126.7L55.8 126.7L49.6 126.7L43.4 126.7L37.2 126.7L31 126.7L24.8 126.7L18.6 126.7L12.4 126.7L6.2 126.7L0 126.7L0 119.2L0 116.5L6.2 111.8L6.2 111.7L12.4 107L15.6 104.3L18.6 102.1L24.8 97.1L25 96.9L31 90L31.3 89.4L36.3 82L37.2 80.2L38.6 74.5L43.4 68.8L44.2 67L44.9 59.6L49.6 53.6L55.5 52.1L55.8 52.1L56.1 52.2L62 53.4L68.2 58.8L74.4 57.1L80.6 54.6L86.8 57.4L93 56.9L99.2 53L100.5 52.1L105.4 49L111.6 46.4L114.1 44.7L117.8 39.9L123.4 37.2Z"/>
<path fill="#c8e1c8" fill-rule="evenodd" d="M117.8 43.5L122.7 44.7L124 45L130.2 50.2L136.4 51.3L139.2 52.1L142.6 54.4L148.8 55L155 54.8L161.2 54.3L167.4 53.4L173.6 52.4L175.3 52.1L179.8 51.3L179.8 52.1L179.8 59.6L179.8 67L179.8 74.5L179.8 82L179.8 89.4L179.8 96.9L179.8 104.3L179.8 111.8L179.8 119.2L179.8 126.7L173.6 126.7L167.4 126.7L161.2 126.7L155 126.7L148.8 126.7L142.6 126.7L136.4 126.7L130.2 126.7L124 126.7L117.8 126.7L111.6 126.7L105.4 126.7L99.2 126.7L93 126.7L86.8 126.7L80.6 126.7L74.4 126.7L68.2 126.7L62 126.7L55.8 126.7L49.6 126.7L43.4 126.7L37.2 126.7L31 126.7L24.8 126.7L18.6 126.7L14.2 126.7L18.6 121.8L20.6 119.2L24.8 114L26.3 111.8L31 104.3L31 104.3L34.3 96.9L37.2 89.4L37.2 89.4L40.4 82L42.9 74.5L43.4 73.9L46.6 67L48.2 59.6L49.6 57.8L55.8 54.6L62 56.7L65.1 59.6L68.2 62.2L74.4 60.6L75.8 59.6L80.6 56.9L85.1 59.6L86.8 60.7L93 60.3L93.8 59.6L99.2 55.2L103.5 52.1L105.4 50.9L111.6 48.3L116.8 44.7ZM60.5 82L62 89.1L66.1 82L62 81.1Z"/>
<path fill="#3c913c" fill-rule="evenodd" d="M111.6 50.1L117.8 47.2L124 48.3L130.2 51.7L132.8 52.1L136.4 53.9L142.6 57.6L148.8 59.2L151.8 59.6L155 60.3L161.2 60.9L167.4 61.3L173.6 61.5L179.8 61.7L179.8 67L179.8 74.5L179.8 82L179.8 89.4L179.8 96.9L179.8 104.3L179.8 111.8L179.8 119.2L179.8 126.7L173.6 126.7L167.4 126.7L161.2 126.7L155 126.7L148.8 126.7L142.6 126.7L136.4 126.7L130.2 126.7L124 126.7L117.8 126.7L111.6 126.7L105.4 126.7L99.2 126.7L93 126.7L86.8 126.7L80.6 126.7L74.4 126.7L68.2 126.7L62 126.7L55.8 126.7L49.6 126.7L43.4 126.7L37.2 126.7L34.1 126.7L37.2 120.6L37.9 119.2L40.8 111.8L42.1 104.3L41.8 96.9L41.5 89.4L43.4 83.8L44.3 82L46.1 74.5L48.9 67L49.6 64.6L51.8 59.6L55.8 57.1L61.3 59.6L62 60.2L68.2 65.4L74.4 63.5L79.7 59.6L80.6 59.1L81.4 59.6L86.8 63.1L93 62.7L96.4 59.6L99.2 57.3L105.4 53.2L107 52.1ZM56.6 82L56.5 89.4L62 96.3L68.2 94.4L70.6 89.4L70.2 82L68.2 79.6L62 78.7Z"/>
<path fill="#007300" fill-rule="evenodd" d="M111.6 52L117.8 51.2L124 51.5L125.4 52.1L130.2 55L136.4 57.8L139.7 59.6L142.6 61.7L148.8 64.3L155 66.2L158.6 67L161.2 67.9L167.4 69.4L173.6 70.8L179.8 72.2L179.8 74.5L179.8 82L179.8 89.4L179.8 96.9L179.8 104.3L179.8 111.8L179.8 119.2L179.8 126.7L173.6 126.7L167.4 126.7L161.2 126.7L155 126.7L148.8 126.7L142.6 126.7L136.4 126.7L130.2 126.7L124 126.7L117.8 126.7L111.6 126.7L105.4 126.7L99.2 126.7L93 126.7L86.8 126.7L80.6 126.7L74.4 126.7L68.2 126.7L62 126.7L55.8 126.7L53 126.7L55.8 121L56.7 119.2L61.9 111.7L62 111.7L68.2 105.5L68.9 104.3L73.3 96.9L74.2 89.4L72.7 82L68.2 76.6L62 76.3L55.8 78.7L49.6 78.2L49.2 74.5L49.6 73.3L52.1 67L55.7 59.6L55.8 59.5L55.9 59.6L62 64.6L65.4 67L68.2 70L72.4 67L74.4 66.4L80.6 62.1L86.8 65.5L93 65L99 59.6L99.2 59.5L105.4 56L111.2 52.1Z"/>
<path fill="#00820a" fill-rule="evenodd" d="M105.4 58.7L111.6 57.2L117.8 57.8L124 58.6L130.2 59.2L131.1 59.6L136.4 63.4L142.6 67L142.7 67L148.8 70.4L155 73.1L158.5 74.5L161.2 75.9L167.4 78.7L173.6 81.3L175.4 82L179.8 84L179.8 89.4L179.8 96.9L179.8 104.3L179.8 111.8L179.8 119.2L179.8 126.7L173.6 126.7L167.4 126.7L161.2 126.7L155 126.7L148.8 126.7L142.6 126.7L136.4 126.7L130.2 126.7L124 126.7L117.8 126.7L111.6 126.7L105.4 126.7L99.2 126.7L93 126.7L86.8 126.7L80.6 126.7L74.4 126.7L71.5 126.7L74.4 119.8L74.6 119.2L77.6 111.8L79.9 104.3L80.2 96.9L78.3 89.4L75.5 82L74.4 79.6L70 74.5L74.4 70.9L78.1 67L80.6 65.3L84.3 67L86.8 67.9L93 67.3L93.6 67L99.2 63.2L103.8 59.6ZM55.8 66.8L56.2 67L56.8 74.5L55.8 74.7L55.5 74.5L55.7 67Z"/>
<path fill="#0f871e" fill-rule="evenodd" d="M99.2 67L105.4 64.1L111.6 64.6L117.8 66.5L119.9 67L124 67.6L130.2 68.4L136.4 70.4L142.6 73.8L143.9 74.5L148.8 77.8L155 81.7L155.5 82L161.2 86.1L166.2 89.4L167.4 90.4L173.6 95.1L176.3 96.9L179.8 99.8L179.8 104.3L179.8 111.8L179.8 119.2L179.8 126.7L173.6 126.7L167.4 126.7L161.2 126.7L155 126.7L148.8 126.7L142.6 126.7L136.4 126.7L130.2 126.7L124 126.7L117.8 126.7L111.6 126.7L105.4 126.7L99.2 126.7L93 126.7L87.2 126.7L88.3 119.2L89.6 111.8L90.7 104.3L90.9 96.9L86.8 93.3L84.3 89.4L80.6 86.2L78.7 82L75.7 74.5L80.6 69.4L86.8 70.2L93 69.3L99.1 67Z"/>
<path fill="#2d8c55" fill-rule="evenodd" d="M80.6 74.3L86.8 72.5L93 71.3L99.2 70.7L105.4 70.5L111.6 71L117.8 71.1L124 72.5L130.2 74.4L130.4 74.5L136.4 77.6L142.6 81.9L142.6 82L148.8 87.9L150.6 89.4L155 94.7L157.1 96.9L161.2 102.4L162.8 104.3L167.4 111.2L167.9 111.8L172.4 119.2L173.6 121.6L176.5 126.7L173.6 126.7L167.4 126.7L161.2 126.7L155 126.7L148.8 126.7L142.6 126.7L136.4 126.7L130.2 126.7L124 126.7L117.8 126.7L111.6 126.7L105.4 126.7L102.2 126.7L101.3 119.2L100.8 111.8L100.9 104.3L101.8 96.9L101.1 89.4L99.2 87.9L93 86.8L86.8 85.9L82.7 82L80.6 75.1L80.4 74.5Z"/>
<path fill="#5aaa46" fill-rule="evenodd" d="M93 73.4L99.2 74.4L99.8 74.5L99.2 76.8L95.9 82L93 82.3L91.4 82L88.2 74.5ZM105.4 79.8L111.6 76.4L117.8 75.4L124 77.5L130.2 80.8L132.1 82L136.4 87L138.7 89.4L142.6 96.7L142.7 96.8L145.1 104.3L145.9 111.8L144.9 119.2L142.6 124.3L140 126.7L136.4 126.7L130.2 126.7L125.9 126.7L124 125.9L117.8 120.4L117.1 119.2L112.3 111.8L111.6 110.7L109.4 104.3L107.8 96.9L107.2 89.4L105.4 83.6L101.6 82Z"/>
<path fill="#96d732" fill-rule="evenodd" d="M111.6 81.6L117.8 79.7L122.8 82L124 83.4L128.6 89.4L129.3 96.9L124 102.6L117.8 101.5L114.2 96.9L111.6 92.2L111 89.4L111.2 82Z"/>
</g>
<path d="M19.4 109.7L17.9 108.9L15.9 107.4L14 106.7L13.2 104.9L14.5 102.9L14 100.9L14.8 98.4L15.1 96.4L14 94.4L15 91.9L15.9 90L17.1 88L17.9 86L16.7 84L17.4 81.8L19.9 80.5L22.9 81.5L24.9 79.5L26.9 77.2L29.9 76.5L32.9 76.9L34.4 75.4L36.9 73.9L39.4 72.4L41.4 70.7L40.9 69.4L38.4 68.7L34.9 70.4L31.9 71.9L29.4 71.4L28.4 68.9L28.9 66.4L30.9 64.9L31.4 62.9L29.9 60.9L29.9 59L31.9 57.8L35.9 57.5L38.4 57.5L39.9 57L43.9 53.5L46.3 51.5L48.8 52L50.8 50L53.8 47.5L60 47L62.9 45.7L65.9 44.4L68.4 42.9L68.9 39.9L70.9 37.4L73.4 35.4L76.3 34.9L78.8 33.1L80.8 33.4L81.6 35.9L81.3 38.9L82.5 38.4L84.5 38.9L86.4 40.4L87.7 43.4L87.9 45.9L89.4 45.4L90.9 43.4L93.1 44.9L95.4 45.4L96.7 44.4L96.1 42.4L97.4 40.9L98.9 38.4L99.4 35.4L100.9 32.4L102.9 29.4L105.4 26.4L108.4 23.9L111.4 21.4L113.9 18.5L114.9 16L116.3 15.5L117.8 17.5L118.8 16.5L120.8 14.5L123.8 13L126.8 11L130 8L132.9 6.8L135.9 6L138.4 4.5L140.9 4.5L143.9 4.5L146.9 4L149.9 4.5L152.9 4L155.9 4L158.9 3.5L161.8 3.5L164.8 2.8L166.8 4L168.8 5.5L170.8 7L170.3 9L167.8 9L164.8 9.4L161.8 8L158.9 7.5L155.9 9L152.9 8.8L150.9 9.9L150.4 12.4L147.9 14.4L145.4 16.4L143.4 18.9L140.9 20.9L138.4 22.4L137.1 24.4L138.1 26.9L137.4 29.4L136.4 31.9L138.4 33.4L140.9 34.4L142.1 36.4L142.9 39L144.4 41.4L142.9 44.4L142.4 46.9L143.4 49.4L142.4 51.9L141.4 54.4L140.4 56.9L138.9 58.9L138.4 61.9L138.9 64L138.4 66.5L136.9 68.5L134.4 69.5L131.4 71L128.9 72.5L126.9 72.2L124.4 71.8L121.5 72.5L119 74L117.5 75.9L117.8 77.9L119.5 79.4L121.5 80.4L121 82.4L121.5 84.9L123 86.4L123.9 88.4L123.4 90.9L122.5 93.4L120 95.9L117 98.4L114.5 100.4L112.5 100.9L110.3 100.1L108.3 98.4L106.3 100.1L104.3 98.4L102.3 97.1L99.8 97.4L97.4 99.1L94.9 98.7L92.4 98.1L90.4 95.9L88.9 93.4L86.4 91.4L82.9 90.4L78.9 90L75.4 88.5L71.9 88L69.4 87L67.5 89.2L65 87.5L62.5 88L60 91.9L57 94.4L53.8 96.9L51.3 98.9L48.8 100.4L45.8 101.4L42.9 101.4L41.4 100.4L39.9 98.9L37.9 97.4L36.9 95.4L37.7 93.4L36.9 91.4L34.9 90.4L32.9 91.4L30.9 92.9L28.9 94.7L26.9 96.4L25.7 98.1L25.4 99.9L24.4 101.4L22.7 102.9L21.7 104.9L22.1 106.7L20.9 108.4Z" fill="none" stroke="#1c1c1c" stroke-width="0.85" stroke-linejoin="round"/>
<rect x="0" y="0" width="173.6" height="119.2" fill="none" stroke="#383838" stroke-width="1.25"/>
<line x1="0" y1="0" x2="0" y2="2.4" stroke="#383838" stroke-width="0.8" transform="translate(0 119.2)"/>
<text class="a" x="-6.8" y="130.2" textLength="13.6" lengthAdjust="spacingAndGlyphs">67E</text>
<line x1="24.8" y1="0" x2="24.8" y2="2.4" stroke="#383838" stroke-width="0.8" transform="translate(0 119.2)"/>
<text class="a" x="18" y="130.2" textLength="13.6" lengthAdjust="spacingAndGlyphs">68E</text>
<line x1="49.6" y1="0" x2="49.6" y2="2.4" stroke="#383838" stroke-width="0.8" transform="translate(0 119.2)"/>
<text class="a" x="42.8" y="130.2" textLength="13.6" lengthAdjust="spacingAndGlyphs">69E</text>
<line x1="74.4" y1="0" x2="74.4" y2="2.4" stroke="#383838" stroke-width="0.8" transform="translate(0 119.2)"/>
<text class="a" x="67.6" y="130.2" textLength="13.6" lengthAdjust="spacingAndGlyphs">70E</text>
<line x1="99.2" y1="0" x2="99.2" y2="2.4" stroke="#383838" stroke-width="0.8" transform="translate(0 119.2)"/>
<text class="a" x="92.4" y="130.2" textLength="13.6" lengthAdjust="spacingAndGlyphs">71E</text>
<line x1="124" y1="0" x2="124" y2="2.4" stroke="#383838" stroke-width="0.8" transform="translate(0 119.2)"/>
<text class="a" x="117.2" y="130.2" textLength="13.6" lengthAdjust="spacingAndGlyphs">72E</text>
<line x1="148.8" y1="0" x2="148.8" y2="2.4" stroke="#383838" stroke-width="0.8" transform="translate(0 119.2)"/>
<text class="a" x="142" y="130.2" textLength="13.6" lengthAdjust="spacingAndGlyphs">73E</text>
<line x1="173.6" y1="0" x2="173.6" y2="2.4" stroke="#383838" stroke-width="0.8" transform="translate(0 119.2)"/>
<text class="a" x="166.8" y="130.2" textLength="13.6" lengthAdjust="spacingAndGlyphs">74E</text>
</g>
<text class="t" x="6" y="15.9" style="letter-spacing:0.6px;word-spacing:3.4px">Ensemble Models</text>
<text class="t" x="6.3" y="174.4" style="letter-spacing:0px;word-spacing:4.2px">Raw GCMs</text>
<text class="t" x="6.4" y="316.1" style="letter-spacing:0.25px">Obs</text>
<text class="t" x="98.3" y="26.9" style="letter-spacing:0.64px">Annual</text>
<text class="t" x="291.3" y="27.3" style="font-size:9.8px">JJAS</text>
<text class="t" x="484.2" y="27.3" style="font-size:9.8px">DJFM</text>
<rect x="86.4" y="458.3" width="20" height="5.9" fill="#4471b4" shape-rendering="crispEdges"/>
<rect x="106.1" y="458.3" width="20" height="5.9" fill="#5078d7" shape-rendering="crispEdges"/>
<rect x="125.9" y="458.3" width="20" height="5.9" fill="#6e8ceb" shape-rendering="crispEdges"/>
<rect x="145.6" y="458.3" width="20" height="5.9" fill="#becdf5" shape-rendering="crispEdges"/>
<rect x="165.4" y="458.3" width="20" height="5.9" fill="#c8e1c8" shape-rendering="crispEdges"/>
<rect x="185.1" y="458.3" width="20" height="5.9" fill="#3c913c" shape-rendering="crispEdges"/>
<rect x="204.8" y="458.3" width="20" height="5.9" fill="#007300" shape-rendering="crispEdges"/>
<rect x="224.6" y="458.3" width="20" height="5.9" fill="#00820a" shape-rendering="crispEdges"/>
<rect x="244.3" y="458.3" width="20" height="5.9" fill="#0f871e" shape-rendering="crispEdges"/>
<rect x="264.1" y="458.3" width="20" height="5.9" fill="#2d8c55" shape-rendering="crispEdges"/>
<rect x="283.8" y="458.3" width="20" height="5.9" fill="#5aaa46" shape-rendering="crispEdges"/>
<rect x="303.5" y="458.3" width="20" height="5.9" fill="#96d732" shape-rendering="crispEdges"/>
<rect x="323.3" y="458.3" width="20" height="5.9" fill="#cddc28" shape-rendering="crispEdges"/>
<rect x="343" y="458.3" width="20" height="5.9" fill="#ffdc1e" shape-rendering="crispEdges"/>
<rect x="362.7" y="458.3" width="20" height="5.9" fill="#ffb919" shape-rendering="crispEdges"/>
<rect x="382.5" y="458.3" width="20" height="5.9" fill="#ffa014" shape-rendering="crispEdges"/>
<rect x="402.2" y="458.3" width="20" height="5.9" fill="#ff960f" shape-rendering="crispEdges"/>
<rect x="422" y="458.3" width="20" height="5.9" fill="#ff820a" shape-rendering="crispEdges"/>
<rect x="441.7" y="458.3" width="20" height="5.9" fill="#ff5a0a" shape-rendering="crispEdges"/>
<rect x="461.4" y="458.3" width="20" height="5.9" fill="#ff320a" shape-rendering="crispEdges"/>
<rect x="481.2" y="458.3" width="20" height="5.9" fill="#fa140a" shape-rendering="crispEdges"/>
<rect x="500.9" y="458.3" width="20" height="5.9" fill="#be0a05" shape-rendering="crispEdges"/>
<rect x="520.7" y="458.3" width="19.7" height="5.9" fill="#820000" shape-rendering="crispEdges"/>
<text class="c" x="106.5" y="475.3" text-anchor="middle">−7</text>
<text class="c" x="126.3" y="475.3" text-anchor="middle">−5</text>
<text class="c" x="146" y="475.3" text-anchor="middle">−3</text>
<text class="c" x="165.8" y="475.3" text-anchor="middle">−1</text>
<text class="c" x="185.5" y="475.3" text-anchor="middle">1</text>
<text class="c" x="205.2" y="475.3" text-anchor="middle">3</text>
<text class="c" x="225" y="475.3" text-anchor="middle">5</text>
<text class="c" x="244.7" y="475.3" text-anchor="middle">7</text>
<text class="c" x="264.5" y="475.3" text-anchor="middle">9</text>
<text class="c" x="278.6" y="475.3" textLength="11.2" lengthAdjust="spacingAndGlyphs">11</text>
<text class="c" x="298.3" y="475.3" textLength="11.2" lengthAdjust="spacingAndGlyphs">13</text>
<text class="c" x="318.1" y="475.3" textLength="11.2" lengthAdjust="spacingAndGlyphs">15</text>
<text class="c" x="337.8" y="475.3" textLength="11.2" lengthAdjust="spacingAndGlyphs">17</text>
<text class="c" x="357.5" y="475.3" textLength="11.2" lengthAdjust="spacingAndGlyphs">19</text>
<text class="c" x="377.3" y="475.3" textLength="11.2" lengthAdjust="spacingAndGlyphs">21</text>
<text class="c" x="397" y="475.3" textLength="11.2" lengthAdjust="spacingAndGlyphs">23</text>
<text class="c" x="416.8" y="475.3" textLength="11.2" lengthAdjust="spacingAndGlyphs">25</text>
<text class="c" x="436.5" y="475.3" textLength="11.2" lengthAdjust="spacingAndGlyphs">27</text>
<text class="c" x="456.2" y="475.3" textLength="11.2" lengthAdjust="spacingAndGlyphs">29</text>
<text class="c" x="476" y="475.3" textLength="11.2" lengthAdjust="spacingAndGlyphs">31</text>
<text class="c" x="495.7" y="475.3" textLength="11.2" lengthAdjust="spacingAndGlyphs">33</text>
<text class="c" x="515.5" y="475.3" textLength="11.2" lengthAdjust="spacingAndGlyphs">35</text>
</svg></body></html>
